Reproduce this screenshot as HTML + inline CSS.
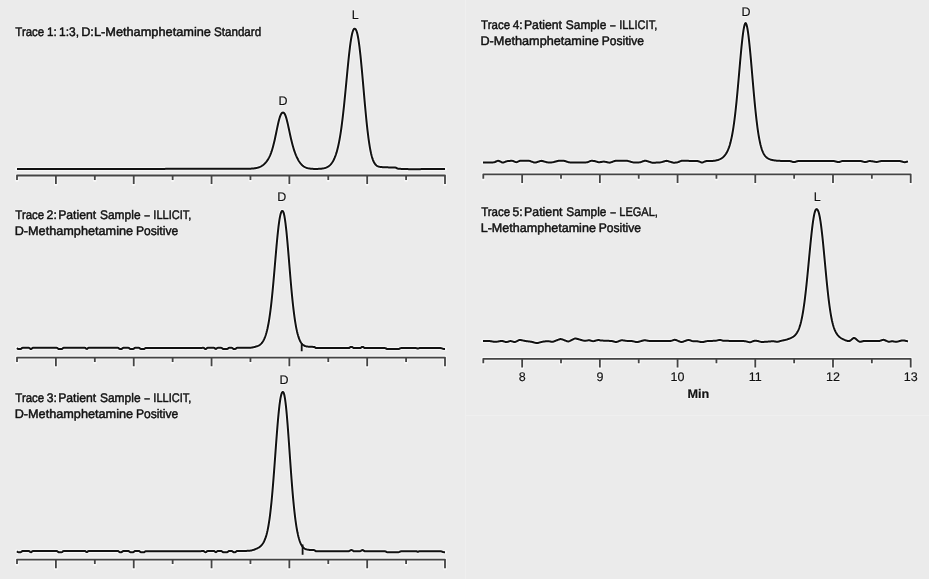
<!DOCTYPE html>
<html><head><meta charset="utf-8"><style>
html,body{margin:0;padding:0;background:#ebebeb;width:929px;height:579px;overflow:hidden;}
svg{display:block;font-family:"Liberation Sans",sans-serif;} text{text-rendering:geometricPrecision;} .txt{will-change:transform;}
</style></head><body>
<svg width="929" height="579" viewBox="0 0 929 579">
<rect x="0" y="0" width="929" height="579" fill="#ebebeb"/>
<path d="M465.5,0 L465.5,579 M466,415.5 L929,415.5" stroke="#efefef" stroke-width="1" fill="none"/>
<g fill="none" stroke-linejoin="round" stroke-linecap="butt">
<g stroke="#f7f7f7" stroke-width="4.0" stroke-linecap="round">
<path d="M17.00,180.00 L17.00,175.50 L445.00,175.50 L445.00,184.10 M55.91,175.50 L55.91,184.10 M94.82,175.50 L94.82,180.00 M133.73,175.50 L133.73,184.10 M172.64,175.50 L172.64,180.00 M211.55,175.50 L211.55,184.10 M250.45,175.50 L250.45,180.00 M289.36,175.50 L289.36,184.10 M328.27,175.50 L328.27,180.00 M367.18,175.50 L367.18,184.10 M406.09,175.50 L406.09,180.00"/><path d="M17.00,362.10 L17.00,357.60 L445.00,357.60 L445.00,366.20 M55.91,357.60 L55.91,366.20 M94.82,357.60 L94.82,362.10 M133.73,357.60 L133.73,366.20 M172.64,357.60 L172.64,362.10 M211.55,357.60 L211.55,366.20 M250.45,357.60 L250.45,362.10 M289.36,357.60 L289.36,366.20 M328.27,357.60 L328.27,362.10 M367.18,357.60 L367.18,366.20 M406.09,357.60 L406.09,362.10"/><path d="M17.00,564.10 L17.00,559.60 L445.00,559.60 L445.00,568.20 M55.91,559.60 L55.91,568.20 M94.82,559.60 L94.82,564.10 M133.73,559.60 L133.73,568.20 M172.64,559.60 L172.64,564.10 M211.55,559.60 L211.55,568.20 M250.45,559.60 L250.45,564.10 M289.36,559.60 L289.36,568.20 M328.27,559.60 L328.27,564.10 M367.18,559.60 L367.18,568.20 M406.09,559.60 L406.09,564.10"/><path d="M483.30,178.80 L483.30,174.30 L910.70,174.30 L910.70,182.90 M522.15,174.30 L522.15,182.90 M561.01,174.30 L561.01,178.80 M599.86,174.30 L599.86,182.90 M638.72,174.30 L638.72,178.80 M677.57,174.30 L677.57,182.90 M716.43,174.30 L716.43,178.80 M755.28,174.30 L755.28,182.90 M794.14,174.30 L794.14,178.80 M832.99,174.30 L832.99,182.90 M871.85,174.30 L871.85,178.80"/><path d="M483.30,363.30 L483.30,358.80 L910.70,358.80 L910.70,367.40 M522.15,358.80 L522.15,367.40 M561.01,358.80 L561.01,363.30 M599.86,358.80 L599.86,367.40 M638.72,358.80 L638.72,363.30 M677.57,358.80 L677.57,367.40 M716.43,358.80 L716.43,363.30 M755.28,358.80 L755.28,367.40 M794.14,358.80 L794.14,363.30 M832.99,358.80 L832.99,367.40 M871.85,358.80 L871.85,363.30"/>
<path d="M17.0,169.00 17.5,169.00 18.0,169.00 18.5,169.00 19.0,169.00 19.5,169.00 20.0,169.00 20.5,169.00 21.0,169.00 21.5,169.00 22.0,169.00 22.5,169.00 23.0,168.99 23.5,168.99 24.0,168.99 24.5,168.99 25.0,168.99 25.5,168.99 26.0,168.99 26.5,168.99 27.0,168.99 27.5,168.99 28.0,168.99 28.5,168.99 29.0,168.99 29.5,168.99 30.0,168.99 30.5,168.99 31.0,168.99 31.5,168.99 32.0,168.99 32.5,168.99 33.0,168.99 33.5,168.99 34.0,168.99 34.5,168.99 35.0,168.98 35.5,168.98 36.0,168.98 36.5,168.98 37.0,168.98 37.5,168.98 38.0,168.98 38.5,168.98 39.0,168.98 39.5,168.98 40.0,168.98 40.5,168.98 41.0,168.98 41.5,168.98 42.0,168.98 42.5,168.98 43.0,168.98 43.5,168.98 44.0,168.98 44.5,168.98 45.0,168.98 45.5,168.98 46.0,168.98 46.5,168.98 47.0,168.97 47.5,168.97 48.0,168.97 48.5,168.97 49.0,168.97 49.5,168.97 50.0,168.97 50.5,168.97 51.0,168.97 51.5,168.97 52.0,168.97 52.5,168.97 53.0,168.97 53.5,168.97 54.0,168.97 54.5,168.97 55.0,168.97 55.5,168.97 56.0,168.97 56.5,168.97 57.0,168.97 57.5,168.97 58.0,168.97 58.5,168.96 59.0,168.96 59.5,168.96 60.0,168.96 60.5,168.96 61.0,168.96 61.5,168.96 62.0,168.96 62.5,168.96 63.0,168.96 63.5,168.96 64.0,168.96 64.5,168.96 65.0,168.96 65.5,168.96 66.0,168.96 66.5,168.96 67.0,168.96 67.5,168.96 68.0,168.96 68.5,168.96 69.0,168.96 69.5,168.96 70.0,168.96 70.5,168.95 71.0,168.95 71.5,168.95 72.0,168.95 72.5,168.95 73.0,168.95 73.5,168.95 74.0,168.95 74.5,168.95 75.0,168.95 75.5,168.95 76.0,168.95 76.5,168.95 77.0,168.95 77.5,168.95 78.0,168.95 78.5,168.95 79.0,168.95 79.5,168.95 80.0,168.95 80.5,168.95 81.0,168.95 81.5,168.95 82.0,168.94 82.5,168.94 83.0,168.94 83.5,168.94 84.0,168.94 84.5,168.94 85.0,168.94 85.5,168.94 86.0,168.94 86.5,168.94 87.0,168.94 87.5,168.94 88.0,168.94 88.5,168.94 89.0,168.94 89.5,168.94 90.0,168.94 90.5,168.94 91.0,168.94 91.5,168.94 92.0,168.94 92.5,168.94 93.0,168.94 93.5,168.94 94.0,168.93 94.5,168.93 95.0,168.93 95.5,168.93 96.0,168.93 96.5,168.93 97.0,168.93 97.5,168.93 98.0,168.93 98.5,168.93 99.0,168.93 99.5,168.93 100.0,168.93 100.5,168.93 101.0,168.93 101.5,168.93 102.0,168.93 102.5,168.93 103.0,168.93 103.5,168.93 104.0,168.93 104.5,168.93 105.0,168.93 105.5,168.93 106.0,168.92 106.5,168.92 107.0,168.92 107.5,168.92 108.0,168.92 108.5,168.92 109.0,168.92 109.5,168.92 110.0,168.92 110.5,168.92 111.0,168.92 111.5,168.92 112.0,168.92 112.5,168.92 113.0,168.92 113.5,168.92 114.0,168.92 114.5,168.92 115.0,168.92 115.5,168.92 116.0,168.92 116.5,168.92 117.0,168.92 117.5,168.91 118.0,168.91 118.5,168.91 119.0,168.91 119.5,168.91 120.0,168.91 120.5,168.91 121.0,168.91 121.5,168.91 122.0,168.91 122.5,168.91 123.0,168.91 123.5,168.91 124.0,168.91 124.5,168.91 125.0,168.91 125.5,168.91 126.0,168.91 126.5,168.91 127.0,168.91 127.5,168.91 128.0,168.91 128.5,168.91 129.0,168.91 129.5,168.90 130.0,168.90 130.5,168.90 131.0,168.90 131.5,168.90 132.0,168.90 132.5,168.90 133.0,168.90 133.5,168.90 134.0,168.90 134.5,168.90 135.0,168.90 135.5,168.90 136.0,168.90 136.5,168.90 137.0,168.90 137.5,168.90 138.0,168.90 138.5,168.90 139.0,168.90 139.5,168.90 140.0,168.90 140.5,168.90 141.0,168.89 141.5,168.89 142.0,168.89 142.5,168.89 143.0,168.89 143.5,168.89 144.0,168.89 144.5,168.89 145.0,168.89 145.5,168.89 146.0,168.89 146.5,168.89 147.0,168.89 147.5,168.89 148.0,168.89 148.5,168.89 149.0,168.89 149.5,168.89 150.0,168.89 150.5,168.89 151.0,168.89 151.5,168.89 152.0,168.89 152.5,168.89 153.0,168.88 153.5,168.88 154.0,168.88 154.5,168.88 155.0,168.88 155.5,168.88 156.0,168.88 156.5,168.88 157.0,168.88 157.5,168.88 158.0,168.88 158.5,168.88 159.0,168.88 159.5,168.88 160.0,168.88 160.5,168.88 161.0,168.88 161.5,168.88 162.0,168.88 162.5,168.88 163.0,168.88 163.5,168.88 164.0,168.88 164.5,168.88 165.0,168.88 165.5,168.87 166.0,168.87 166.5,168.87 167.0,168.87 167.5,168.87 168.0,168.87 168.5,168.87 169.0,168.87 169.5,168.87 170.0,168.87 170.5,168.87 171.0,168.87 171.5,168.87 172.0,168.87 172.5,168.87 173.0,168.87 173.5,168.87 174.0,168.87 174.5,168.87 175.0,168.87 175.5,168.87 176.0,168.87 176.5,168.87 177.0,168.87 177.5,168.86 178.0,168.86 178.5,168.86 179.0,168.86 179.5,168.86 180.0,168.86 180.5,168.86 181.0,168.86 181.5,168.86 182.0,168.86 182.5,168.86 183.0,168.86 183.5,168.86 184.0,168.86 184.5,168.86 185.0,168.86 185.5,168.86 186.0,168.86 186.5,168.86 187.0,168.86 187.5,168.86 188.0,168.86 188.5,168.86 189.0,168.85 189.5,168.85 190.0,168.85 190.5,168.85 191.0,168.85 191.5,168.85 192.0,168.85 192.5,168.85 193.0,168.85 193.5,168.85 194.0,168.85 194.5,168.85 195.0,168.85 195.5,168.85 196.0,168.85 196.5,168.85 197.0,168.85 197.5,168.85 198.0,168.85 198.5,168.85 199.0,168.85 199.5,168.85 200.0,168.85 200.5,168.85 201.0,168.84 201.5,168.84 202.0,168.84 202.5,168.84 203.0,168.84 203.5,168.84 204.0,168.84 204.5,168.84 205.0,168.84 205.5,168.84 206.0,168.84 206.5,168.84 207.0,168.84 207.5,168.84 208.0,168.84 208.5,168.84 209.0,168.84 209.5,168.84 210.0,168.84 210.5,168.84 211.0,168.84 211.5,168.84 212.0,168.84 212.5,168.84 213.0,168.83 213.5,168.83 214.0,168.83 214.5,168.83 215.0,168.83 215.5,168.83 216.0,168.83 216.5,168.83 217.0,168.83 217.5,168.83 218.0,168.83 218.5,168.83 219.0,168.83 219.5,168.83 220.0,168.83 220.5,168.83 221.0,168.83 221.5,168.83 222.0,168.83 222.5,168.83 223.0,168.83 223.5,168.83 224.0,168.83 224.5,168.83 225.0,168.82 225.5,168.82 226.0,168.82 226.5,168.82 227.0,168.82 227.5,168.82 228.0,168.82 228.5,168.82 229.0,168.82 229.5,168.82 230.0,168.82 230.5,168.82 231.0,168.82 231.5,168.82 232.0,168.82 232.5,168.82 233.0,168.82 233.5,168.82 234.0,168.82 234.5,168.82 235.0,168.82 235.5,168.82 236.0,168.82 236.5,168.81 237.0,168.81 237.5,168.81 238.0,168.81 238.5,168.81 239.0,168.81 239.5,168.81 240.0,168.81 240.5,168.81 241.0,168.81 241.5,168.81 242.0,168.81 242.5,168.80 243.0,168.80 243.5,168.80 244.0,168.80 244.5,168.79 245.0,168.79 245.5,168.79 246.0,168.78 246.5,168.77 247.0,168.77 247.5,168.76 248.0,168.75 248.5,168.74 249.0,168.73 249.5,168.71 250.0,168.69 250.5,168.67 251.0,168.65 251.5,168.62 252.0,168.59 252.5,168.55 253.0,168.51 253.5,168.46 254.0,168.41 254.5,168.34 255.0,168.27 255.5,168.19 256.0,168.10 256.5,168.00 257.0,167.89 257.5,167.76 258.0,167.62 258.5,167.46 259.0,167.29 259.5,167.09 260.0,166.88 260.5,166.64 261.0,166.38 261.5,166.10 262.0,165.78 262.5,165.44 263.0,165.08 263.5,164.68 264.0,164.25 264.5,163.78 265.0,163.28 265.5,162.74 266.0,162.16 266.5,161.54 267.0,160.87 267.5,160.15 268.0,159.37 268.5,158.53 269.0,157.62 269.5,156.63 270.0,155.55 270.5,154.38 271.0,153.10 271.5,151.71 272.0,150.19 272.5,148.55 273.0,146.77 273.5,144.86 274.0,142.83 274.5,140.67 275.0,138.42 275.5,136.08 276.0,133.68 276.5,131.26 277.0,128.85 277.5,126.48 278.0,124.20 278.5,122.05 279.0,120.05 279.5,118.25 280.0,116.67 280.5,115.34 281.0,114.26 281.5,113.46 282.0,112.91 282.5,112.61 283.0,112.52 283.5,112.63 284.0,112.98 284.5,113.60 285.0,114.50 285.5,115.67 286.0,117.10 286.5,118.78 287.0,120.66 287.5,122.71 288.0,124.90 288.5,127.19 289.0,129.52 289.5,131.88 290.0,134.21 290.5,136.50 291.0,138.71 291.5,140.83 292.0,142.86 292.5,144.77 293.0,146.58 293.5,148.28 294.0,149.87 294.5,151.37 295.0,152.77 295.5,154.08 296.0,155.32 296.5,156.47 297.0,157.55 297.5,158.57 298.0,159.52 298.5,160.40 299.0,161.23 299.5,161.99 300.0,162.70 300.5,163.35 301.0,163.95 301.5,164.51 302.0,165.01 302.5,165.47 303.0,165.88 303.5,166.26 304.0,166.59 304.5,166.90 305.0,167.17 305.5,167.41 306.0,167.62 306.5,167.81 307.0,167.98 307.5,168.12 308.0,168.25 308.5,168.36 309.0,168.45 309.5,168.54 310.0,168.61 310.5,168.67 311.0,168.72 311.5,168.76 312.0,168.80 312.5,168.83 313.0,168.86 313.5,168.88 314.0,168.89 314.5,168.90 315.0,168.91 315.5,168.92 316.0,168.92 316.5,168.91 317.0,168.91 317.5,168.90 318.0,168.89 318.5,168.87 319.0,168.85 319.5,168.83 320.0,168.80 320.5,168.76 321.0,168.72 321.5,168.67 322.0,168.61 322.5,168.54 323.0,168.46 323.5,168.36 324.0,168.26 324.5,168.14 325.0,168.00 325.5,167.84 326.0,167.66 326.5,167.46 327.0,167.23 327.5,166.97 328.0,166.68 328.5,166.36 329.0,165.99 329.5,165.59 330.0,165.14 330.5,164.63 331.0,164.08 331.5,163.46 332.0,162.78 332.5,162.03 333.0,161.20 333.5,160.29 334.0,159.29 334.5,158.19 335.0,156.99 335.5,155.67 336.0,154.23 336.5,152.66 337.0,150.94 337.5,149.07 338.0,147.03 338.5,144.80 339.0,142.38 339.5,139.76 340.0,136.92 340.5,133.85 341.0,130.55 341.5,127.01 342.0,123.22 342.5,119.20 343.0,114.95 343.5,110.47 344.0,105.79 344.5,100.92 345.0,95.91 345.5,90.77 346.0,85.55 346.5,80.29 347.0,75.05 347.5,69.87 348.0,64.80 348.5,59.89 349.0,55.21 349.5,50.80 350.0,46.71 350.5,42.97 351.0,39.63 351.5,36.72 352.0,34.25 352.5,32.24 353.0,30.70 353.5,29.62 354.0,28.97 354.5,28.73 355.0,28.78 355.5,29.12 356.0,29.82 356.5,30.94 357.0,32.50 357.5,34.52 358.0,37.00 358.5,39.95 359.0,43.34 359.5,47.17 360.0,51.39 360.5,55.97 361.0,60.87 361.5,66.04 362.0,71.44 362.5,77.00 363.0,82.67 363.5,88.39 364.0,94.12 364.5,99.79 365.0,105.36 365.5,110.78 366.0,116.01 366.5,121.03 367.0,125.78 367.5,130.27 368.0,134.46 368.5,138.34 369.0,141.92 369.5,145.18 370.0,148.14 370.5,150.79 371.0,153.16 371.5,155.25 372.0,157.09 372.5,158.70 373.0,160.09 373.5,161.29 374.0,162.31 374.5,163.18 375.0,163.91 375.5,164.53 376.0,165.04 376.5,165.46 377.0,165.81 377.5,166.09 378.0,166.32 378.5,166.51 379.0,166.66 379.5,166.78 380.0,166.88 380.5,166.96 381.0,167.02 381.5,167.08 382.0,167.12 382.5,167.15 383.0,167.19 383.5,167.21 384.0,167.24 384.5,167.26 385.0,167.28 385.5,167.30 386.0,167.32 386.5,167.33 387.0,167.34 387.5,167.36 388.0,167.37 388.5,167.38 389.0,167.39 389.5,167.39 390.0,167.40 390.5,167.41 391.0,167.41 391.5,167.41 392.0,167.42 392.5,167.42 393.0,167.42 393.5,167.42 394.0,167.43 394.5,167.44 395.0,167.48 395.5,167.58 396.0,167.75 396.5,167.98 397.0,168.25 397.5,168.48 398.0,168.65 398.5,168.75 399.0,168.80 399.5,168.83 400.0,168.85 400.5,168.87 401.0,168.89 401.5,168.91 402.0,168.93 402.5,168.95 403.0,168.97 403.5,168.98 404.0,169.00 404.5,169.02 405.0,169.03 405.5,169.05 406.0,169.06 406.5,169.08 407.0,169.09 407.5,169.11 408.0,169.12 408.5,169.14 409.0,169.15 409.5,169.16 410.0,169.17 410.5,169.17 411.0,169.17 411.5,169.17 412.0,169.17 412.5,169.17 413.0,169.17 413.5,169.17 414.0,169.16 414.5,169.16 415.0,169.16 415.5,169.16 416.0,169.15 416.5,169.15 417.0,169.15 417.5,169.14 418.0,169.14 418.5,169.14 419.0,169.14 419.5,169.13 420.0,169.13 420.5,169.13 421.0,169.12 421.5,169.12 422.0,169.12 422.5,169.11 423.0,169.11 423.5,169.11 424.0,169.11 424.5,169.10 425.0,169.10 425.5,169.10 426.0,169.09 426.5,169.09 427.0,169.09 427.5,169.09 428.0,169.08 428.5,169.08 429.0,169.08 429.5,169.08 430.0,169.07 430.5,169.07 431.0,169.07 431.5,169.07 432.0,169.06 432.5,169.06 433.0,169.06 433.5,169.06 434.0,169.05 434.5,169.05 435.0,169.05 435.5,169.05 436.0,169.04 436.5,169.04 437.0,169.04 437.5,169.04 438.0,169.03 438.5,169.03 439.0,169.03 439.5,169.03 440.0,169.02 440.5,169.02 441.0,169.02 441.5,169.02 442.0,169.01 442.5,169.01 443.0,169.01 443.5,169.01 444.0,169.01 444.5,169.00 445.0,169.00"/><path d="M17.0,348.07 17.5,348.55 18.0,348.95 18.5,349.08 19.0,349.10 19.5,349.10 20.0,349.10 20.5,349.07 21.0,348.89 21.5,348.45 22.0,348.01 22.5,347.83 23.0,347.80 23.5,347.80 24.0,347.80 24.5,347.80 25.0,347.80 25.5,347.80 26.0,347.80 26.5,347.80 27.0,347.80 27.5,347.80 28.0,347.80 28.5,347.80 29.0,347.84 29.5,348.07 30.0,348.55 30.5,348.94 31.0,349.04 31.5,348.83 32.0,348.35 32.5,347.95 33.0,347.82 33.5,347.80 34.0,347.80 34.5,347.80 35.0,347.80 35.5,347.80 36.0,347.80 36.5,347.80 37.0,347.80 37.5,347.80 38.0,347.80 38.5,347.80 39.0,347.80 39.5,347.80 40.0,347.80 40.5,347.80 41.0,347.80 41.5,347.80 42.0,347.80 42.5,347.80 43.0,347.80 43.5,347.80 44.0,347.80 44.5,347.80 45.0,347.80 45.5,347.80 46.0,347.80 46.5,347.80 47.0,347.80 47.5,347.80 48.0,347.80 48.5,347.80 49.0,347.80 49.5,347.80 50.0,347.80 50.5,347.80 51.0,347.80 51.5,347.80 52.0,347.80 52.5,347.80 53.0,347.80 53.5,347.80 54.0,347.80 54.5,347.80 55.0,347.80 55.5,347.80 56.0,347.80 56.5,347.81 57.0,347.88 57.5,348.16 58.0,348.65 58.5,348.99 59.0,349.09 59.5,349.10 60.0,349.10 60.5,349.10 61.0,349.10 61.5,349.08 62.0,348.95 62.5,348.55 63.0,348.07 63.5,347.84 64.0,347.80 64.5,347.80 65.0,347.80 65.5,347.80 66.0,347.80 66.5,347.80 67.0,347.80 67.5,347.80 68.0,347.80 68.5,347.80 69.0,347.80 69.5,347.80 70.0,347.80 70.5,347.80 71.0,347.80 71.5,347.80 72.0,347.80 72.5,347.80 73.0,347.80 73.5,347.80 74.0,347.80 74.5,347.80 75.0,347.80 75.5,347.80 76.0,347.80 76.5,347.80 77.0,347.80 77.5,347.80 78.0,347.80 78.5,347.80 79.0,347.80 79.5,347.80 80.0,347.80 80.5,347.80 81.0,347.80 81.5,347.80 82.0,347.80 82.5,347.80 83.0,347.80 83.5,347.80 84.0,347.80 84.5,347.80 85.0,347.83 85.5,348.01 86.0,348.45 86.5,348.87 87.0,348.91 87.5,348.55 88.0,348.07 88.5,347.84 89.0,347.80 89.5,347.80 90.0,347.80 90.5,347.80 91.0,347.80 91.5,347.80 92.0,347.80 92.5,347.80 93.0,347.80 93.5,347.80 94.0,347.80 94.5,347.80 95.0,347.80 95.5,347.80 96.0,347.80 96.5,347.80 97.0,347.80 97.5,347.80 98.0,347.80 98.5,347.80 99.0,347.80 99.5,347.80 100.0,347.80 100.5,347.80 101.0,347.80 101.5,347.80 102.0,347.80 102.5,347.80 103.0,347.80 103.5,347.80 104.0,347.80 104.5,347.80 105.0,347.80 105.5,347.80 106.0,347.80 106.5,347.80 107.0,347.80 107.5,347.80 108.0,347.80 108.5,347.80 109.0,347.80 109.5,347.80 110.0,347.80 110.5,347.80 111.0,347.80 111.5,347.80 112.0,347.80 112.5,347.80 113.0,347.80 113.5,347.80 114.0,347.80 114.5,347.80 115.0,347.80 115.5,347.80 116.0,347.80 116.5,347.80 117.0,347.80 117.5,347.80 118.0,347.83 118.5,348.01 119.0,348.45 119.5,348.89 120.0,349.07 120.5,349.10 121.0,349.09 121.5,349.02 122.0,348.74 122.5,348.25 123.0,347.91 123.5,347.81 124.0,347.80 124.5,347.80 125.0,347.80 125.5,347.80 126.0,347.80 126.5,347.80 127.0,347.80 127.5,347.80 128.0,347.80 128.5,347.83 129.0,348.01 129.5,348.45 130.0,348.89 130.5,349.07 131.0,349.10 131.5,349.10 132.0,349.10 132.5,349.10 133.0,349.07 133.5,348.89 134.0,348.45 134.5,348.01 135.0,347.83 135.5,347.80 136.0,347.80 136.5,347.80 137.0,347.80 137.5,347.80 138.0,347.80 138.5,347.80 139.0,347.83 139.5,348.01 140.0,348.45 140.5,348.89 141.0,349.07 141.5,349.10 142.0,349.10 142.5,349.10 143.0,349.10 143.5,349.10 144.0,349.06 144.5,348.83 145.0,348.37 145.5,348.03 146.0,347.99 146.5,348.06 147.0,348.09 147.5,348.10 148.0,348.10 148.5,348.10 149.0,348.10 149.5,348.09 150.0,348.09 150.5,348.09 151.0,348.09 151.5,348.09 152.0,348.09 152.5,348.09 153.0,348.09 153.5,348.09 154.0,348.09 154.5,348.09 155.0,348.08 155.5,348.08 156.0,348.08 156.5,348.08 157.0,348.08 157.5,348.08 158.0,348.08 158.5,348.08 159.0,348.08 159.5,348.08 160.0,348.07 160.5,348.07 161.0,348.07 161.5,348.07 162.0,348.07 162.5,348.07 163.0,348.07 163.5,348.07 164.0,348.07 164.5,348.07 165.0,348.07 165.5,348.06 166.0,348.06 166.5,348.06 167.0,348.06 167.5,348.06 168.0,348.06 168.5,348.06 169.0,348.06 169.5,348.06 170.0,348.06 170.5,348.06 171.0,348.05 171.5,348.05 172.0,348.05 172.5,348.05 173.0,348.05 173.5,348.05 174.0,348.05 174.5,348.05 175.0,348.05 175.5,348.05 176.0,348.04 176.5,348.04 177.0,348.04 177.5,348.04 178.0,348.04 178.5,348.04 179.0,348.04 179.5,348.04 180.0,348.04 180.5,348.04 181.0,348.04 181.5,348.03 182.0,348.03 182.5,348.03 183.0,348.03 183.5,348.03 184.0,348.03 184.5,348.03 185.0,348.03 185.5,348.03 186.0,348.03 186.5,348.03 187.0,348.02 187.5,348.02 188.0,348.02 188.5,348.02 189.0,348.02 189.5,348.02 190.0,348.02 190.5,348.02 191.0,348.02 191.5,348.02 192.0,348.01 192.5,348.01 193.0,348.01 193.5,348.01 194.0,348.01 194.5,348.01 195.0,348.01 195.5,348.01 196.0,348.01 196.5,348.01 197.0,348.01 197.5,348.00 198.0,348.00 198.5,348.00 199.0,348.00 199.5,348.00 200.0,347.99 200.5,347.97 201.0,347.94 201.5,347.91 202.0,347.89 202.5,347.86 203.0,347.83 203.5,347.84 204.0,348.02 204.5,348.45 205.0,348.88 205.5,349.05 206.0,348.94 206.5,348.55 207.0,348.07 207.5,347.84 208.0,347.80 208.5,347.80 209.0,347.80 209.5,347.80 210.0,347.80 210.5,347.80 211.0,347.80 211.5,347.80 212.0,347.80 212.5,347.80 213.0,347.80 213.5,347.80 214.0,347.83 214.5,348.01 215.0,348.45 215.5,348.88 216.0,348.96 216.5,348.65 217.0,348.16 217.5,347.88 218.0,347.81 218.5,347.80 219.0,347.80 219.5,347.80 220.0,347.80 220.5,347.80 221.0,347.81 221.5,347.88 222.0,348.16 222.5,348.65 223.0,348.99 223.5,349.09 224.0,349.10 224.5,349.10 225.0,349.10 225.5,349.10 226.0,349.10 226.5,349.10 227.0,349.07 227.5,348.89 228.0,348.45 228.5,348.01 229.0,347.83 229.5,347.80 230.0,347.80 230.5,347.80 231.0,347.80 231.5,347.81 232.0,347.88 232.5,348.16 233.0,348.65 233.5,348.99 234.0,349.09 234.5,349.10 235.0,349.07 235.5,348.89 236.0,348.45 236.5,348.01 237.0,347.83 237.5,347.80 238.0,347.80 238.5,347.80 239.0,347.80 239.5,347.80 240.0,347.80 240.5,347.80 241.0,347.80 241.5,347.80 242.0,347.80 242.5,347.80 243.0,347.80 243.5,347.80 244.0,347.79 244.5,347.79 245.0,347.79 245.5,347.79 246.0,347.79 246.5,347.78 247.0,347.78 247.5,347.77 248.0,347.77 248.5,347.76 249.0,347.75 249.5,347.73 250.0,347.72 250.5,347.70 251.0,347.66 251.5,347.60 252.0,347.52 252.5,347.43 253.0,347.33 253.5,347.23 254.0,347.11 254.5,346.98 255.0,346.84 255.5,346.69 256.0,346.54 256.5,346.40 257.0,346.25 257.5,346.09 258.0,345.89 258.5,345.66 259.0,345.40 259.5,345.09 260.0,344.74 260.5,344.34 261.0,343.88 261.5,343.36 262.0,342.76 262.5,342.07 263.0,341.29 263.5,340.41 264.0,339.43 264.5,338.33 265.0,337.10 265.5,335.72 266.0,334.19 266.5,332.47 267.0,330.56 267.5,328.44 268.0,326.08 268.5,323.47 269.0,320.58 269.5,317.41 270.0,313.93 270.5,310.14 271.0,306.04 271.5,301.62 272.0,296.90 272.5,291.89 273.0,286.62 273.5,281.13 274.0,275.46 274.5,269.65 275.0,263.78 275.5,257.91 276.0,252.11 276.5,246.45 277.0,241.01 277.5,235.86 278.0,231.08 278.5,226.71 279.0,222.82 279.5,219.45 280.0,216.63 280.5,214.38 281.0,212.71 281.5,211.60 282.0,211.01 282.5,210.90 283.0,211.32 283.5,212.39 284.0,214.14 284.5,216.55 285.0,219.61 285.5,223.28 286.0,227.51 286.5,232.23 287.0,237.39 287.5,242.89 288.0,248.67 288.5,254.63 289.0,260.69 289.5,266.78 290.0,272.82 290.5,278.74 291.0,284.50 291.5,290.04 292.0,295.32 292.5,300.31 293.0,305.00 293.5,309.38 294.0,313.43 294.5,317.17 295.0,320.59 295.5,323.71 296.0,326.55 296.5,329.11 297.0,331.41 297.5,333.47 298.0,335.31 298.5,336.95 299.0,338.39 299.5,339.66 300.0,340.77 300.5,341.73 301.0,342.55 301.5,343.27 302.0,343.88 302.5,344.40 303.0,344.84 303.5,345.21 304.0,345.51 304.5,345.77 305.0,345.98 305.5,346.15 306.0,346.29 306.5,346.40 307.0,346.49 307.5,346.56 308.0,346.63 308.5,346.69 309.0,346.73 309.5,346.77 310.0,346.80 310.5,346.82 311.0,346.84 311.5,346.85 312.0,346.86 312.5,346.87 313.0,346.88 313.5,346.89 314.0,346.92 314.5,347.07 315.0,347.41 315.5,347.80 316.0,348.03 316.5,348.09 317.0,348.10 317.5,348.10 318.0,348.10 318.5,348.10 319.0,348.10 319.5,348.10 320.0,348.10 320.5,348.10 321.0,348.10 321.5,348.10 322.0,348.10 322.5,348.10 323.0,348.10 323.5,348.10 324.0,348.10 324.5,348.10 325.0,348.10 325.5,348.10 326.0,348.10 326.5,348.10 327.0,348.10 327.5,348.10 328.0,348.10 328.5,348.10 329.0,348.10 329.5,348.10 330.0,348.10 330.5,348.10 331.0,348.10 331.5,348.10 332.0,348.10 332.5,348.10 333.0,348.10 333.5,348.10 334.0,348.10 334.5,348.10 335.0,348.10 335.5,348.10 336.0,348.10 336.5,348.10 337.0,348.10 337.5,348.10 338.0,348.10 338.5,348.10 339.0,348.10 339.5,348.10 340.0,348.10 340.5,348.10 341.0,348.10 341.5,348.10 342.0,348.10 342.5,348.10 343.0,348.10 343.5,348.10 344.0,348.10 344.5,348.10 345.0,348.10 345.5,348.10 346.0,348.10 346.5,348.10 347.0,348.10 347.5,348.10 348.0,348.10 348.5,348.09 349.0,348.00 349.5,347.74 350.0,347.34 350.5,347.04 351.0,346.92 351.5,346.90 352.0,346.94 352.5,347.15 353.0,347.59 353.5,347.96 354.0,348.08 354.5,348.10 355.0,348.10 355.5,348.10 356.0,348.10 356.5,348.10 357.0,348.10 357.5,348.10 358.0,348.10 358.5,348.10 359.0,348.10 359.5,348.10 360.0,348.07 360.5,347.93 361.0,347.58 361.5,347.20 362.0,346.97 362.5,346.91 363.0,346.97 363.5,347.24 364.0,347.68 364.5,348.00 365.0,348.09 365.5,348.10 366.0,348.10 366.5,348.10 367.0,348.10 367.5,348.10 368.0,348.10 368.5,348.10 369.0,348.10 369.5,348.10 370.0,348.10 370.5,348.10 371.0,348.10 371.5,348.10 372.0,348.10 372.5,348.10 373.0,348.10 373.5,348.10 374.0,348.10 374.5,348.10 375.0,348.10 375.5,348.10 376.0,348.10 376.5,348.10 377.0,348.10 377.5,348.10 378.0,348.10 378.5,348.10 379.0,348.10 379.5,348.10 380.0,348.10 380.5,348.10 381.0,348.10 381.5,348.10 382.0,348.10 382.5,348.10 383.0,348.10 383.5,348.10 384.0,348.10 384.5,348.10 385.0,348.12 385.5,348.23 386.0,348.49 386.5,348.78 387.0,348.95 387.5,349.00 388.0,349.00 388.5,349.00 389.0,349.00 389.5,349.00 390.0,349.00 390.5,349.00 391.0,349.00 391.5,349.00 392.0,349.00 392.5,349.00 393.0,349.00 393.5,349.00 394.0,349.00 394.5,349.00 395.0,349.00 395.5,349.00 396.0,349.00 396.5,349.00 397.0,349.00 397.5,349.00 398.0,349.00 398.5,348.99 399.0,348.93 399.5,348.73 400.0,348.43 400.5,348.20 401.0,348.11 401.5,348.10 402.0,348.10 402.5,348.10 403.0,348.10 403.5,348.10 404.0,348.10 404.5,348.10 405.0,348.10 405.5,348.10 406.0,348.10 406.5,348.10 407.0,348.10 407.5,348.10 408.0,348.10 408.5,348.10 409.0,348.10 409.5,348.10 410.0,348.10 410.5,348.10 411.0,348.10 411.5,348.10 412.0,348.10 412.5,348.10 413.0,348.10 413.5,348.10 414.0,348.10 414.5,348.10 415.0,348.10 415.5,348.10 416.0,348.10 416.5,348.13 417.0,348.28 417.5,348.54 418.0,348.58 418.5,348.34 419.0,348.15 419.5,348.10 420.0,348.10 420.5,348.10 421.0,348.10 421.5,348.10 422.0,348.10 422.5,348.10 423.0,348.10 423.5,348.10 424.0,348.10 424.5,348.10 425.0,348.10 425.5,348.10 426.0,348.10 426.5,348.10 427.0,348.10 427.5,348.10 428.0,348.10 428.5,348.10 429.0,348.10 429.5,348.10 430.0,348.10 430.5,348.10 431.0,348.10 431.5,348.10 432.0,348.10 432.5,348.10 433.0,348.10 433.5,348.10 434.0,348.10 434.5,348.10 435.0,348.10 435.5,348.10 436.0,348.10 436.5,348.10 437.0,348.10 437.5,348.10 438.0,348.10 438.5,348.10 439.0,348.10 439.5,348.10 440.0,348.10 440.5,348.10 441.0,348.14 441.5,348.24 442.0,348.40 442.5,348.59 443.0,348.77 443.5,348.91 444.0,348.98 444.5,349.00 445.0,349.00"/><path d="M17.0,551.27 17.5,551.75 18.0,552.15 18.5,552.28 19.0,552.30 19.5,552.30 20.0,552.30 20.5,552.27 21.0,552.09 21.5,551.65 22.0,551.21 22.5,551.03 23.0,551.00 23.5,551.00 24.0,551.00 24.5,551.00 25.0,551.00 25.5,551.00 26.0,551.00 26.5,551.00 27.0,551.00 27.5,551.00 28.0,551.00 28.5,551.00 29.0,551.04 29.5,551.27 30.0,551.75 30.5,552.14 31.0,552.24 31.5,552.03 32.0,551.55 32.5,551.15 33.0,551.02 33.5,551.00 34.0,551.00 34.5,551.00 35.0,551.00 35.5,551.00 36.0,551.00 36.5,551.00 37.0,551.00 37.5,551.00 38.0,551.00 38.5,551.00 39.0,551.00 39.5,551.00 40.0,551.00 40.5,551.00 41.0,551.00 41.5,551.00 42.0,551.00 42.5,551.00 43.0,551.00 43.5,551.00 44.0,551.00 44.5,551.00 45.0,551.00 45.5,551.00 46.0,551.00 46.5,551.00 47.0,551.00 47.5,551.00 48.0,551.00 48.5,551.00 49.0,551.00 49.5,551.00 50.0,551.00 50.5,551.00 51.0,551.00 51.5,551.00 52.0,551.00 52.5,551.00 53.0,551.00 53.5,551.00 54.0,551.00 54.5,551.00 55.0,551.00 55.5,551.00 56.0,551.00 56.5,551.01 57.0,551.08 57.5,551.36 58.0,551.85 58.5,552.19 59.0,552.29 59.5,552.30 60.0,552.30 60.5,552.30 61.0,552.30 61.5,552.28 62.0,552.15 62.5,551.75 63.0,551.27 63.5,551.04 64.0,551.00 64.5,551.00 65.0,551.00 65.5,551.00 66.0,551.00 66.5,551.00 67.0,551.00 67.5,551.00 68.0,551.00 68.5,551.00 69.0,551.00 69.5,551.00 70.0,551.00 70.5,551.00 71.0,551.00 71.5,551.00 72.0,551.00 72.5,551.00 73.0,551.00 73.5,551.00 74.0,551.00 74.5,551.00 75.0,551.00 75.5,551.00 76.0,551.00 76.5,551.00 77.0,551.00 77.5,551.00 78.0,551.00 78.5,551.00 79.0,551.00 79.5,551.00 80.0,551.00 80.5,551.00 81.0,551.00 81.5,551.00 82.0,551.00 82.5,551.00 83.0,551.00 83.5,551.00 84.0,551.00 84.5,551.00 85.0,551.03 85.5,551.21 86.0,551.65 86.5,552.07 87.0,552.11 87.5,551.75 88.0,551.27 88.5,551.04 89.0,551.00 89.5,551.00 90.0,551.00 90.5,551.00 91.0,551.00 91.5,551.00 92.0,551.00 92.5,551.00 93.0,551.00 93.5,551.00 94.0,551.00 94.5,551.00 95.0,551.00 95.5,551.00 96.0,551.00 96.5,551.00 97.0,551.00 97.5,551.00 98.0,551.00 98.5,551.00 99.0,551.00 99.5,551.00 100.0,551.00 100.5,551.00 101.0,551.00 101.5,551.00 102.0,551.00 102.5,551.00 103.0,551.00 103.5,551.00 104.0,551.00 104.5,551.00 105.0,551.00 105.5,551.00 106.0,551.00 106.5,551.00 107.0,551.00 107.5,551.00 108.0,551.00 108.5,551.00 109.0,551.00 109.5,551.00 110.0,551.00 110.5,551.00 111.0,551.00 111.5,551.00 112.0,551.00 112.5,551.00 113.0,551.00 113.5,551.00 114.0,551.00 114.5,551.00 115.0,551.00 115.5,551.00 116.0,551.00 116.5,551.00 117.0,551.00 117.5,551.00 118.0,551.03 118.5,551.21 119.0,551.65 119.5,552.09 120.0,552.27 120.5,552.30 121.0,552.29 121.5,552.22 122.0,551.94 122.5,551.45 123.0,551.11 123.5,551.01 124.0,551.00 124.5,551.00 125.0,551.00 125.5,551.00 126.0,551.00 126.5,551.00 127.0,551.00 127.5,551.00 128.0,551.00 128.5,551.03 129.0,551.21 129.5,551.65 130.0,552.09 130.5,552.27 131.0,552.30 131.5,552.30 132.0,552.30 132.5,552.30 133.0,552.27 133.5,552.09 134.0,551.65 134.5,551.21 135.0,551.03 135.5,551.00 136.0,551.00 136.5,551.00 137.0,551.00 137.5,551.00 138.0,551.00 138.5,551.00 139.0,551.03 139.5,551.21 140.0,551.65 140.5,552.09 141.0,552.27 141.5,552.30 142.0,552.30 142.5,552.30 143.0,552.30 143.5,552.30 144.0,552.26 144.5,552.03 145.0,551.57 145.5,551.23 146.0,551.19 146.5,551.26 147.0,551.29 147.5,551.30 148.0,551.30 148.5,551.30 149.0,551.30 149.5,551.29 150.0,551.29 150.5,551.29 151.0,551.29 151.5,551.29 152.0,551.29 152.5,551.29 153.0,551.29 153.5,551.29 154.0,551.29 154.5,551.29 155.0,551.28 155.5,551.28 156.0,551.28 156.5,551.28 157.0,551.28 157.5,551.28 158.0,551.28 158.5,551.28 159.0,551.28 159.5,551.28 160.0,551.27 160.5,551.27 161.0,551.27 161.5,551.27 162.0,551.27 162.5,551.27 163.0,551.27 163.5,551.27 164.0,551.27 164.5,551.27 165.0,551.27 165.5,551.26 166.0,551.26 166.5,551.26 167.0,551.26 167.5,551.26 168.0,551.26 168.5,551.26 169.0,551.26 169.5,551.26 170.0,551.26 170.5,551.26 171.0,551.25 171.5,551.25 172.0,551.25 172.5,551.25 173.0,551.25 173.5,551.25 174.0,551.25 174.5,551.25 175.0,551.25 175.5,551.25 176.0,551.24 176.5,551.24 177.0,551.24 177.5,551.24 178.0,551.24 178.5,551.24 179.0,551.24 179.5,551.24 180.0,551.24 180.5,551.24 181.0,551.24 181.5,551.23 182.0,551.23 182.5,551.23 183.0,551.23 183.5,551.23 184.0,551.23 184.5,551.23 185.0,551.23 185.5,551.23 186.0,551.23 186.5,551.23 187.0,551.22 187.5,551.22 188.0,551.22 188.5,551.22 189.0,551.22 189.5,551.22 190.0,551.22 190.5,551.22 191.0,551.22 191.5,551.22 192.0,551.21 192.5,551.21 193.0,551.21 193.5,551.21 194.0,551.21 194.5,551.21 195.0,551.21 195.5,551.21 196.0,551.21 196.5,551.21 197.0,551.21 197.5,551.20 198.0,551.20 198.5,551.20 199.0,551.20 199.5,551.20 200.0,551.19 200.5,551.17 201.0,551.14 201.5,551.11 202.0,551.09 202.5,551.06 203.0,551.03 203.5,551.04 204.0,551.22 204.5,551.65 205.0,552.08 205.5,552.25 206.0,552.14 206.5,551.75 207.0,551.27 207.5,551.04 208.0,551.00 208.5,551.00 209.0,551.00 209.5,551.00 210.0,551.00 210.5,551.00 211.0,551.00 211.5,551.00 212.0,551.00 212.5,551.00 213.0,551.00 213.5,551.00 214.0,551.03 214.5,551.21 215.0,551.65 215.5,552.08 216.0,552.16 216.5,551.85 217.0,551.36 217.5,551.08 218.0,551.01 218.5,551.00 219.0,551.00 219.5,551.00 220.0,551.00 220.5,551.00 221.0,551.01 221.5,551.08 222.0,551.36 222.5,551.85 223.0,552.19 223.5,552.29 224.0,552.30 224.5,552.30 225.0,552.30 225.5,552.30 226.0,552.30 226.5,552.30 227.0,552.27 227.5,552.09 228.0,551.65 228.5,551.21 229.0,551.03 229.5,551.00 230.0,551.00 230.5,551.00 231.0,551.00 231.5,551.01 232.0,551.08 232.5,551.36 233.0,551.85 233.5,552.19 234.0,552.29 234.5,552.30 235.0,552.27 235.5,552.08 236.0,551.65 236.5,551.21 237.0,551.03 237.5,551.00 238.0,550.99 238.5,550.99 239.0,550.99 239.5,550.99 240.0,550.99 240.5,550.98 241.0,550.98 241.5,550.98 242.0,550.97 242.5,550.97 243.0,550.96 243.5,550.96 244.0,550.95 244.5,550.94 245.0,550.93 245.5,550.91 246.0,550.90 246.5,550.88 247.0,550.86 247.5,550.84 248.0,550.81 248.5,550.78 249.0,550.74 249.5,550.70 250.0,550.65 250.5,550.60 251.0,550.52 251.5,550.42 252.0,550.30 252.5,550.16 253.0,550.01 253.5,549.85 254.0,549.68 254.5,549.50 255.0,549.30 255.5,549.08 256.0,548.87 256.5,548.66 257.0,548.46 257.5,548.23 258.0,547.98 258.5,547.70 259.0,547.39 259.5,547.05 260.0,546.66 260.5,546.24 261.0,545.77 261.5,545.25 262.0,544.67 262.5,544.00 263.0,543.25 263.5,542.42 264.0,541.48 264.5,540.43 265.0,539.25 265.5,537.92 266.0,536.41 266.5,534.72 267.0,532.80 267.5,530.64 268.0,528.21 268.5,525.48 269.0,522.44 269.5,519.05 270.0,515.30 270.5,511.18 271.0,506.67 271.5,501.78 272.0,496.51 272.5,490.89 273.0,484.94 273.5,478.69 274.0,472.20 274.5,465.51 275.0,458.71 275.5,451.86 276.0,445.03 276.5,438.32 277.0,431.81 277.5,425.58 278.0,419.71 278.5,414.29 279.0,409.37 279.5,405.01 280.0,401.26 280.5,398.15 281.0,395.69 281.5,393.88 282.0,392.70 282.5,392.10 283.0,391.99 283.5,392.49 284.0,393.75 284.5,395.81 285.0,398.67 285.5,402.29 286.0,406.65 286.5,411.66 287.0,417.27 287.5,423.38 288.0,429.89 288.5,436.72 289.0,443.76 289.5,450.90 290.0,458.05 290.5,465.13 291.0,472.05 291.5,478.76 292.0,485.19 292.5,491.30 293.0,497.06 293.5,502.46 294.0,507.48 294.5,512.12 295.0,516.39 295.5,520.29 296.0,523.84 296.5,527.06 297.0,529.96 297.5,532.57 298.0,534.90 298.5,536.98 299.0,538.83 299.5,540.46 300.0,541.89 300.5,543.14 301.0,544.22 301.5,545.15 302.0,545.96 302.5,546.65 303.0,547.24 303.5,547.74 304.0,548.15 304.5,548.50 305.0,548.79 305.5,549.03 306.0,549.23 306.5,549.39 307.0,549.52 307.5,549.62 308.0,549.72 308.5,549.80 309.0,549.86 309.5,549.91 310.0,549.95 310.5,549.99 311.0,550.01 311.5,550.03 312.0,550.05 312.5,550.06 313.0,550.07 313.5,550.08 314.0,550.11 314.5,550.26 315.0,550.61 315.5,551.00 316.0,551.23 316.5,551.29 317.0,551.30 317.5,551.30 318.0,551.30 318.5,551.30 319.0,551.30 319.5,551.30 320.0,551.30 320.5,551.30 321.0,551.30 321.5,551.30 322.0,551.30 322.5,551.30 323.0,551.30 323.5,551.30 324.0,551.30 324.5,551.30 325.0,551.30 325.5,551.30 326.0,551.30 326.5,551.30 327.0,551.30 327.5,551.30 328.0,551.30 328.5,551.30 329.0,551.30 329.5,551.30 330.0,551.30 330.5,551.30 331.0,551.30 331.5,551.30 332.0,551.30 332.5,551.30 333.0,551.30 333.5,551.30 334.0,551.30 334.5,551.30 335.0,551.30 335.5,551.30 336.0,551.30 336.5,551.30 337.0,551.30 337.5,551.30 338.0,551.30 338.5,551.30 339.0,551.30 339.5,551.30 340.0,551.30 340.5,551.30 341.0,551.30 341.5,551.30 342.0,551.30 342.5,551.30 343.0,551.30 343.5,551.30 344.0,551.30 344.5,551.30 345.0,551.30 345.5,551.30 346.0,551.30 346.5,551.30 347.0,551.30 347.5,551.30 348.0,551.30 348.5,551.29 349.0,551.20 349.5,550.94 350.0,550.54 350.5,550.24 351.0,550.12 351.5,550.10 352.0,550.14 352.5,550.35 353.0,550.79 353.5,551.16 354.0,551.28 354.5,551.30 355.0,551.30 355.5,551.30 356.0,551.30 356.5,551.30 357.0,551.30 357.5,551.30 358.0,551.30 358.5,551.30 359.0,551.30 359.5,551.30 360.0,551.27 360.5,551.13 361.0,550.78 361.5,550.40 362.0,550.17 362.5,550.11 363.0,550.17 363.5,550.44 364.0,550.88 364.5,551.20 365.0,551.29 365.5,551.30 366.0,551.30 366.5,551.30 367.0,551.30 367.5,551.30 368.0,551.30 368.5,551.30 369.0,551.30 369.5,551.30 370.0,551.30 370.5,551.30 371.0,551.30 371.5,551.30 372.0,551.30 372.5,551.30 373.0,551.30 373.5,551.30 374.0,551.30 374.5,551.30 375.0,551.30 375.5,551.30 376.0,551.30 376.5,551.30 377.0,551.30 377.5,551.30 378.0,551.30 378.5,551.30 379.0,551.30 379.5,551.30 380.0,551.30 380.5,551.30 381.0,551.30 381.5,551.30 382.0,551.30 382.5,551.30 383.0,551.30 383.5,551.30 384.0,551.30 384.5,551.30 385.0,551.32 385.5,551.43 386.0,551.69 386.5,551.98 387.0,552.15 387.5,552.20 388.0,552.20 388.5,552.20 389.0,552.20 389.5,552.20 390.0,552.20 390.5,552.20 391.0,552.20 391.5,552.20 392.0,552.20 392.5,552.20 393.0,552.20 393.5,552.20 394.0,552.20 394.5,552.20 395.0,552.20 395.5,552.20 396.0,552.20 396.5,552.20 397.0,552.20 397.5,552.20 398.0,552.20 398.5,552.19 399.0,552.13 399.5,551.93 400.0,551.63 400.5,551.40 401.0,551.31 401.5,551.30 402.0,551.30 402.5,551.30 403.0,551.30 403.5,551.30 404.0,551.30 404.5,551.30 405.0,551.30 405.5,551.30 406.0,551.30 406.5,551.30 407.0,551.30 407.5,551.30 408.0,551.30 408.5,551.30 409.0,551.30 409.5,551.30 410.0,551.30 410.5,551.30 411.0,551.30 411.5,551.30 412.0,551.30 412.5,551.30 413.0,551.30 413.5,551.30 414.0,551.30 414.5,551.30 415.0,551.30 415.5,551.30 416.0,551.30 416.5,551.33 417.0,551.48 417.5,551.74 418.0,551.78 418.5,551.54 419.0,551.35 419.5,551.30 420.0,551.30 420.5,551.30 421.0,551.30 421.5,551.30 422.0,551.30 422.5,551.30 423.0,551.30 423.5,551.30 424.0,551.30 424.5,551.30 425.0,551.30 425.5,551.30 426.0,551.30 426.5,551.30 427.0,551.30 427.5,551.30 428.0,551.30 428.5,551.30 429.0,551.30 429.5,551.30 430.0,551.30 430.5,551.30 431.0,551.30 431.5,551.30 432.0,551.30 432.5,551.30 433.0,551.30 433.5,551.30 434.0,551.30 434.5,551.30 435.0,551.30 435.5,551.30 436.0,551.30 436.5,551.30 437.0,551.30 437.5,551.30 438.0,551.30 438.5,551.30 439.0,551.30 439.5,551.30 440.0,551.30 440.5,551.30 441.0,551.34 441.5,551.44 442.0,551.60 442.5,551.79 443.0,551.97 443.5,552.11 444.0,552.18 444.5,552.20 445.0,552.20"/><path d="M483.0,162.40 483.5,162.40 484.0,162.40 484.5,162.40 485.0,162.40 485.5,162.40 486.0,162.40 486.5,162.40 487.0,162.40 487.5,162.40 488.0,162.40 488.5,162.40 489.0,162.40 489.5,162.40 490.0,162.40 490.5,162.40 491.0,162.40 491.5,162.40 492.0,162.40 492.5,162.40 493.0,162.39 493.5,162.37 494.0,162.31 494.5,162.18 495.0,161.99 495.5,161.76 496.0,161.52 496.5,161.28 497.0,161.05 497.5,160.87 498.0,160.78 498.5,160.83 499.0,160.99 499.5,161.22 500.0,161.47 500.5,161.73 501.0,161.98 501.5,162.22 502.0,162.43 502.5,162.54 503.0,162.54 503.5,162.43 504.0,162.27 504.5,162.08 505.0,161.89 505.5,161.71 506.0,161.52 506.5,161.35 507.0,161.21 507.5,161.11 508.0,161.04 508.5,160.99 509.0,160.95 509.5,160.92 510.0,160.88 510.5,160.84 511.0,160.80 511.5,160.78 512.0,160.80 512.5,160.88 513.0,161.04 513.5,161.23 514.0,161.44 514.5,161.66 515.0,161.87 515.5,162.04 516.0,162.14 516.5,162.13 517.0,162.00 517.5,161.81 518.0,161.59 518.5,161.37 519.0,161.16 519.5,160.97 520.0,160.82 520.5,160.74 521.0,160.71 521.5,160.70 522.0,160.70 522.5,160.70 523.0,160.70 523.5,160.70 524.0,160.70 524.5,160.70 525.0,160.70 525.5,160.70 526.0,160.70 526.5,160.70 527.0,160.70 527.5,160.70 528.0,160.71 528.5,160.73 529.0,160.78 529.5,160.89 530.0,161.04 530.5,161.21 531.0,161.39 531.5,161.57 532.0,161.75 532.5,161.93 533.0,162.11 533.5,162.29 534.0,162.45 534.5,162.57 535.0,162.61 535.5,162.55 536.0,162.43 536.5,162.28 537.0,162.12 537.5,161.96 538.0,161.80 538.5,161.64 539.0,161.48 539.5,161.31 540.0,161.16 540.5,161.01 541.0,160.91 541.5,160.87 542.0,160.92 542.5,161.03 543.0,161.17 543.5,161.32 544.0,161.46 544.5,161.61 545.0,161.76 545.5,161.90 546.0,162.04 546.5,162.18 547.0,162.29 547.5,162.35 548.0,162.39 548.5,162.40 549.0,162.40 549.5,162.40 550.0,162.40 550.5,162.40 551.0,162.40 551.5,162.39 552.0,162.37 552.5,162.31 553.0,162.22 553.5,162.10 554.0,161.97 554.5,161.84 555.0,161.71 555.5,161.58 556.0,161.44 556.5,161.31 557.0,161.18 557.5,161.05 558.0,160.92 558.5,160.82 559.0,160.75 559.5,160.72 560.0,160.70 560.5,160.70 561.0,160.70 561.5,160.70 562.0,160.70 562.5,160.70 563.0,160.71 563.5,160.73 564.0,160.79 564.5,160.90 565.0,161.04 565.5,161.20 566.0,161.37 566.5,161.53 567.0,161.70 567.5,161.87 568.0,162.03 568.5,162.17 569.0,162.29 569.5,162.36 570.0,162.39 570.5,162.40 571.0,162.40 571.5,162.40 572.0,162.40 572.5,162.40 573.0,162.40 573.5,162.40 574.0,162.40 574.5,162.40 575.0,162.40 575.5,162.40 576.0,162.40 576.5,162.40 577.0,162.40 577.5,162.40 578.0,162.40 578.5,162.40 579.0,162.40 579.5,162.40 580.0,162.40 580.5,162.40 581.0,162.40 581.5,162.40 582.0,162.40 582.5,162.40 583.0,162.40 583.5,162.40 584.0,162.40 584.5,162.40 585.0,162.40 585.5,162.40 586.0,162.39 586.5,162.37 587.0,162.32 587.5,162.20 588.0,162.03 588.5,161.83 589.0,161.62 589.5,161.40 590.0,161.19 590.5,161.00 591.0,160.87 591.5,160.81 592.0,160.81 592.5,160.85 593.0,160.90 593.5,160.95 594.0,161.00 594.5,161.07 595.0,161.16 595.5,161.29 596.0,161.44 596.5,161.60 597.0,161.77 597.5,161.93 598.0,162.08 598.5,162.20 599.0,162.26 599.5,162.25 600.0,162.19 600.5,162.11 601.0,162.02 601.5,161.93 602.0,161.84 602.5,161.75 603.0,161.68 603.5,161.62 604.0,161.62 604.5,161.67 605.0,161.75 605.5,161.86 606.0,161.97 606.5,162.08 607.0,162.19 607.5,162.31 608.0,162.42 608.5,162.52 609.0,162.61 609.5,162.64 610.0,162.60 610.5,162.48 611.0,162.32 611.5,162.15 612.0,161.97 612.5,161.79 613.0,161.61 613.5,161.42 614.0,161.24 614.5,161.07 615.0,160.92 615.5,160.80 616.0,160.73 616.5,160.71 617.0,160.70 617.5,160.70 618.0,160.70 618.5,160.70 619.0,160.70 619.5,160.70 620.0,160.70 620.5,160.70 621.0,160.70 621.5,160.70 622.0,160.70 622.5,160.70 623.0,160.70 623.5,160.70 624.0,160.70 624.5,160.70 625.0,160.70 625.5,160.70 626.0,160.71 626.5,160.72 627.0,160.77 627.5,160.85 628.0,160.97 628.5,161.11 629.0,161.26 629.5,161.40 630.0,161.55 630.5,161.70 631.0,161.84 631.5,161.99 632.0,162.13 632.5,162.25 633.0,162.33 633.5,162.38 634.0,162.39 634.5,162.40 635.0,162.40 635.5,162.40 636.0,162.40 636.5,162.40 637.0,162.40 637.5,162.40 638.0,162.40 638.5,162.40 639.0,162.39 639.5,162.37 640.0,162.30 640.5,162.18 641.0,162.03 641.5,161.85 642.0,161.67 642.5,161.49 643.0,161.30 643.5,161.12 644.0,160.95 644.5,160.80 645.0,160.70 645.5,160.70 646.0,160.79 646.5,160.93 647.0,161.08 647.5,161.25 648.0,161.41 648.5,161.57 649.0,161.73 649.5,161.89 650.0,162.05 650.5,162.22 651.0,162.38 651.5,162.52 652.0,162.65 652.5,162.72 653.0,162.74 653.5,162.74 654.0,162.72 654.5,162.70 655.0,162.67 655.5,162.65 656.0,162.62 656.5,162.60 657.0,162.58 657.5,162.55 658.0,162.53 658.5,162.50 659.0,162.48 659.5,162.45 660.0,162.42 660.5,162.36 661.0,162.27 661.5,162.15 662.0,162.02 662.5,161.87 663.0,161.73 663.5,161.58 664.0,161.43 664.5,161.29 665.0,161.14 665.5,161.01 666.0,160.90 666.5,160.86 667.0,160.90 667.5,161.01 668.0,161.15 668.5,161.29 669.0,161.44 669.5,161.59 670.0,161.74 670.5,161.88 671.0,162.03 671.5,162.18 672.0,162.33 672.5,162.47 673.0,162.59 673.5,162.68 674.0,162.71 674.5,162.69 675.0,162.65 675.5,162.60 676.0,162.55 676.5,162.49 677.0,162.42 677.5,162.31 678.0,162.15 678.5,161.96 679.0,161.74 679.5,161.53 680.0,161.31 680.5,161.11 681.0,160.93 681.5,160.81 682.0,160.75 682.5,160.73 683.0,160.74 683.5,160.75 684.0,160.76 684.5,160.77 685.0,160.79 685.5,160.80 686.0,160.81 686.5,160.82 687.0,160.83 687.5,160.85 688.0,160.86 688.5,160.87 689.0,160.88 689.5,160.89 690.0,160.90 690.5,160.92 691.0,160.93 691.5,160.94 692.0,160.95 692.5,160.96 693.0,160.98 693.5,160.99 694.0,161.00 694.5,161.01 695.0,161.02 695.5,161.03 696.0,161.05 696.5,161.06 697.0,161.07 697.5,161.10 698.0,161.17 698.5,161.29 699.0,161.46 699.5,161.66 700.0,161.88 700.5,162.09 701.0,162.29 701.5,162.46 702.0,162.53 702.5,162.49 703.0,162.35 703.5,162.14 704.0,161.92 704.5,161.70 705.0,161.48 705.5,161.29 706.0,161.16 706.5,161.09 707.0,161.07 707.5,161.07 708.0,161.07 708.5,161.07 709.0,161.07 709.5,161.07 710.0,161.06 710.5,161.05 711.0,161.04 711.5,161.02 712.0,160.99 712.5,160.96 713.0,160.91 713.5,160.85 714.0,160.79 714.5,160.72 715.0,160.64 715.5,160.56 716.0,160.46 716.5,160.35 717.0,160.23 717.5,160.09 718.0,159.94 718.5,159.78 719.0,159.59 719.5,159.39 720.0,159.16 720.5,158.91 721.0,158.63 721.5,158.33 722.0,157.99 722.5,157.62 723.0,157.21 723.5,156.76 724.0,156.26 724.5,155.71 725.0,155.11 725.5,154.44 726.0,153.71 726.5,152.90 727.0,152.00 727.5,151.00 728.0,149.90 728.5,148.69 729.0,147.34 729.5,145.84 730.0,144.19 730.5,142.37 731.0,140.35 731.5,138.13 732.0,135.68 732.5,132.99 733.0,130.06 733.5,126.85 734.0,123.38 734.5,119.62 735.0,115.57 735.5,111.25 736.0,106.65 736.5,101.79 737.0,96.69 737.5,91.38 738.0,85.89 738.5,80.27 739.0,74.57 739.5,68.83 740.0,63.13 740.5,57.53 741.0,52.11 741.5,46.93 742.0,42.08 742.5,37.62 743.0,33.64 743.5,30.19 744.0,27.34 744.5,25.16 745.0,23.70 745.5,23.03 746.0,23.36 746.5,24.54 747.0,26.43 747.5,28.99 748.0,32.17 748.5,35.90 749.0,40.12 749.5,44.78 750.0,49.81 750.5,55.14 751.0,60.70 751.5,66.41 752.0,72.22 752.5,78.06 753.0,83.88 753.5,89.60 754.0,95.20 754.5,100.61 755.0,105.81 755.5,110.77 756.0,115.47 756.5,119.88 757.0,123.99 757.5,127.81 758.0,131.33 758.5,134.55 759.0,137.49 759.5,140.15 760.0,142.54 760.5,144.70 761.0,146.62 761.5,148.33 762.0,149.84 762.5,151.18 763.0,152.35 763.5,153.39 764.0,154.29 764.5,155.09 765.0,155.78 765.5,156.39 766.0,156.92 766.5,157.38 767.0,157.78 767.5,158.14 768.0,158.45 768.5,158.72 769.0,158.97 769.5,159.18 770.0,159.37 770.5,159.54 771.0,159.69 771.5,159.83 772.0,159.95 772.5,160.06 773.0,160.16 773.5,160.25 774.0,160.33 774.5,160.40 775.0,160.46 775.5,160.52 776.0,160.58 776.5,160.63 777.0,160.67 777.5,160.71 778.0,160.75 778.5,160.78 779.0,160.81 779.5,160.84 780.0,160.86 780.5,160.88 781.0,160.90 781.5,160.91 782.0,160.93 782.5,160.94 783.0,160.95 783.5,160.95 784.0,160.96 784.5,160.97 785.0,160.97 785.5,160.97 786.0,160.98 786.5,160.98 787.0,160.98 787.5,160.98 788.0,160.98 788.5,160.98 789.0,160.99 789.5,161.01 790.0,161.07 790.5,161.17 791.0,161.31 791.5,161.47 792.0,161.63 792.5,161.80 793.0,161.95 793.5,162.06 794.0,162.11 794.5,162.07 795.0,161.95 795.5,161.80 796.0,161.64 796.5,161.48 797.0,161.33 797.5,161.19 798.0,161.09 798.5,161.03 799.0,161.00 799.5,161.00 800.0,161.00 800.5,161.00 801.0,161.00 801.5,161.00 802.0,161.00 802.5,161.00 803.0,161.00 803.5,161.00 804.0,161.00 804.5,161.00 805.0,161.00 805.5,161.00 806.0,161.00 806.5,161.00 807.0,161.00 807.5,161.00 808.0,161.00 808.5,161.00 809.0,161.00 809.5,161.00 810.0,161.00 810.5,161.00 811.0,161.00 811.5,161.00 812.0,161.00 812.5,161.00 813.0,161.00 813.5,161.00 814.0,161.00 814.5,161.00 815.0,161.00 815.5,161.00 816.0,161.00 816.5,161.00 817.0,161.00 817.5,161.00 818.0,161.00 818.5,161.00 819.0,161.00 819.5,161.00 820.0,161.00 820.5,161.00 821.0,161.00 821.5,161.00 822.0,161.00 822.5,161.00 823.0,161.00 823.5,161.00 824.0,161.00 824.5,161.00 825.0,161.00 825.5,161.00 826.0,161.00 826.5,161.00 827.0,161.00 827.5,161.00 828.0,161.00 828.5,161.00 829.0,161.00 829.5,161.00 830.0,161.00 830.5,161.00 831.0,161.00 831.5,161.00 832.0,161.00 832.5,161.00 833.0,161.01 833.5,161.03 834.0,161.07 834.5,161.16 835.0,161.28 835.5,161.41 836.0,161.54 836.5,161.68 837.0,161.81 837.5,161.94 838.0,162.05 838.5,162.11 839.0,162.09 839.5,161.98 840.0,161.80 840.5,161.61 841.0,161.42 841.5,161.24 842.0,161.11 842.5,161.04 843.0,161.01 843.5,161.00 844.0,161.00 844.5,161.00 845.0,161.00 845.5,161.00 846.0,161.00 846.5,161.00 847.0,161.00 847.5,161.00 848.0,161.00 848.5,161.00 849.0,161.00 849.5,161.00 850.0,161.00 850.5,161.00 851.0,161.00 851.5,161.00 852.0,161.00 852.5,161.00 853.0,161.00 853.5,161.00 854.0,161.00 854.5,161.00 855.0,161.00 855.5,161.00 856.0,161.00 856.5,161.00 857.0,161.00 857.5,161.00 858.0,161.00 858.5,161.00 859.0,161.00 859.5,161.00 860.0,161.01 860.5,161.03 861.0,161.08 861.5,161.18 862.0,161.30 862.5,161.44 863.0,161.59 863.5,161.74 864.0,161.88 864.5,162.01 865.0,162.10 865.5,162.11 866.0,162.03 866.5,161.89 867.0,161.72 867.5,161.54 868.0,161.37 868.5,161.22 869.0,161.12 869.5,161.07 870.0,161.08 870.5,161.10 871.0,161.14 871.5,161.18 872.0,161.24 872.5,161.31 873.0,161.40 873.5,161.49 874.0,161.59 874.5,161.69 875.0,161.79 875.5,161.88 876.0,161.95 876.5,161.98 877.0,161.94 877.5,161.86 878.0,161.75 878.5,161.62 879.0,161.50 879.5,161.38 880.0,161.26 880.5,161.15 881.0,161.07 881.5,161.02 882.0,161.01 882.5,161.00 883.0,161.00 883.5,161.00 884.0,161.00 884.5,161.00 885.0,161.00 885.5,161.00 886.0,161.00 886.5,161.00 887.0,161.00 887.5,161.00 888.0,161.00 888.5,161.00 889.0,161.00 889.5,161.00 890.0,161.00 890.5,161.00 891.0,161.00 891.5,161.00 892.0,161.00 892.5,161.00 893.0,161.00 893.5,161.00 894.0,161.00 894.5,161.00 895.0,161.00 895.5,161.00 896.0,161.00 896.5,161.00 897.0,161.00 897.5,161.00 898.0,161.00 898.5,161.00 899.0,161.01 899.5,161.03 900.0,161.08 900.5,161.17 901.0,161.30 901.5,161.43 902.0,161.58 902.5,161.72 903.0,161.86 903.5,162.00 904.0,162.11 904.5,162.16 905.0,162.14 905.5,162.06 906.0,161.96 906.5,161.84 907.0,161.73 907.5,161.64 908.0,161.56"/><path d="M483.0,341.00 483.5,341.00 484.0,341.00 484.5,341.00 485.0,341.00 485.5,341.00 486.0,341.00 486.5,341.00 487.0,341.00 487.5,341.00 488.0,341.00 488.5,341.01 489.0,341.02 489.5,341.05 490.0,341.10 490.5,341.16 491.0,341.23 491.5,341.31 492.0,341.40 492.5,341.48 493.0,341.57 493.5,341.65 494.0,341.73 494.5,341.80 495.0,341.84 495.5,341.86 496.0,341.84 496.5,341.79 497.0,341.71 497.5,341.63 498.0,341.54 498.5,341.45 499.0,341.35 499.5,341.26 500.0,341.17 500.5,341.09 501.0,341.03 501.5,340.99 502.0,341.01 502.5,341.07 503.0,341.18 503.5,341.31 504.0,341.47 504.5,341.63 505.0,341.78 505.5,341.91 506.0,341.99 506.5,342.02 507.0,341.97 507.5,341.86 508.0,341.70 508.5,341.53 509.0,341.36 509.5,341.22 510.0,341.12 510.5,341.09 511.0,341.12 511.5,341.22 512.0,341.35 512.5,341.50 513.0,341.66 513.5,341.80 514.0,341.91 514.5,341.96 515.0,341.92 515.5,341.80 516.0,341.60 516.5,341.35 517.0,341.08 517.5,340.81 518.0,340.54 518.5,340.30 519.0,340.12 519.5,340.00 520.0,339.97 520.5,340.00 521.0,340.08 521.5,340.18 522.0,340.28 522.5,340.39 523.0,340.51 523.5,340.62 524.0,340.73 524.5,340.83 525.0,340.92 525.5,341.01 526.0,341.09 526.5,341.16 527.0,341.22 527.5,341.28 528.0,341.34 528.5,341.41 529.0,341.47 529.5,341.53 530.0,341.59 530.5,341.66 531.0,341.74 531.5,341.83 532.0,341.93 532.5,342.06 533.0,342.19 533.5,342.33 534.0,342.48 534.5,342.62 535.0,342.76 535.5,342.89 536.0,342.99 536.5,343.06 537.0,343.06 537.5,343.01 538.0,342.92 538.5,342.80 539.0,342.66 539.5,342.52 540.0,342.38 540.5,342.24 541.0,342.10 541.5,341.97 542.0,341.86 542.5,341.76 543.0,341.67 543.5,341.60 544.0,341.53 544.5,341.46 545.0,341.39 545.5,341.32 546.0,341.25 546.5,341.20 547.0,341.15 547.5,341.14 548.0,341.15 548.5,341.20 549.0,341.28 549.5,341.38 550.0,341.48 550.5,341.58 551.0,341.67 551.5,341.74 552.0,341.77 552.5,341.75 553.0,341.67 553.5,341.53 554.0,341.37 554.5,341.19 555.0,341.00 555.5,340.80 556.0,340.61 556.5,340.42 557.0,340.23 557.5,340.03 558.0,339.84 558.5,339.65 559.0,339.47 559.5,339.31 560.0,339.18 560.5,339.11 561.0,339.12 561.5,339.20 562.0,339.33 562.5,339.50 563.0,339.69 563.5,339.88 564.0,340.07 564.5,340.26 565.0,340.45 565.5,340.65 566.0,340.84 566.5,341.02 567.0,341.20 567.5,341.34 568.0,341.42 568.5,341.43 569.0,341.34 569.5,341.17 570.0,340.94 570.5,340.68 571.0,340.41 571.5,340.14 572.0,339.86 572.5,339.59 573.0,339.31 573.5,339.05 574.0,338.82 574.5,338.64 575.0,338.53 575.5,338.51 576.0,338.56 576.5,338.66 577.0,338.78 577.5,338.92 578.0,339.07 578.5,339.21 579.0,339.35 579.5,339.50 580.0,339.64 580.5,339.79 581.0,339.93 581.5,340.08 582.0,340.22 582.5,340.36 583.0,340.50 583.5,340.63 584.0,340.73 584.5,340.79 585.0,340.81 585.5,340.78 586.0,340.72 586.5,340.63 587.0,340.54 587.5,340.45 588.0,340.37 588.5,340.32 589.0,340.31 589.5,340.35 590.0,340.44 590.5,340.57 591.0,340.72 591.5,340.87 592.0,341.01 592.5,341.11 593.0,341.15 593.5,341.13 594.0,341.06 594.5,340.95 595.0,340.82 595.5,340.68 596.0,340.54 596.5,340.39 597.0,340.26 597.5,340.14 598.0,340.06 598.5,340.03 599.0,340.07 599.5,340.17 600.0,340.30 600.5,340.41 601.0,340.49 601.5,340.54 602.0,340.58 602.5,340.60 603.0,340.62 603.5,340.64 604.0,340.66 604.5,340.68 605.0,340.70 605.5,340.72 606.0,340.74 606.5,340.76 607.0,340.78 607.5,340.80 608.0,340.83 608.5,340.85 609.0,340.87 609.5,340.89 610.0,340.91 610.5,340.93 611.0,340.96 611.5,341.00 612.0,341.07 612.5,341.16 613.0,341.28 613.5,341.43 614.0,341.58 614.5,341.74 615.0,341.87 615.5,341.97 616.0,342.00 616.5,341.95 617.0,341.84 617.5,341.68 618.0,341.49 618.5,341.28 619.0,341.07 619.5,340.87 620.0,340.68 620.5,340.51 621.0,340.38 621.5,340.31 622.0,340.29 622.5,340.32 623.0,340.37 623.5,340.44 624.0,340.52 624.5,340.60 625.0,340.67 625.5,340.75 626.0,340.82 626.5,340.88 627.0,340.93 627.5,340.96 628.0,340.98 628.5,340.99 629.0,341.00 629.5,341.00 630.0,341.00 630.5,341.00 631.0,341.01 631.5,341.03 632.0,341.08 632.5,341.15 633.0,341.24 633.5,341.36 634.0,341.50 634.5,341.63 635.0,341.77 635.5,341.90 636.0,342.00 636.5,342.06 637.0,342.07 637.5,342.02 638.0,341.93 638.5,341.81 639.0,341.68 639.5,341.54 640.0,341.40 640.5,341.26 641.0,341.12 641.5,340.97 642.0,340.83 642.5,340.70 643.0,340.56 643.5,340.44 644.0,340.35 644.5,340.30 645.0,340.29 645.5,340.33 646.0,340.40 646.5,340.49 647.0,340.58 647.5,340.68 648.0,340.77 648.5,340.85 649.0,340.91 649.5,340.95 650.0,340.98 650.5,340.99 651.0,341.00 651.5,341.00 652.0,341.00 652.5,341.00 653.0,341.00 653.5,341.00 654.0,341.00 654.5,341.00 655.0,341.00 655.5,341.00 656.0,341.00 656.5,341.00 657.0,341.00 657.5,341.00 658.0,341.00 658.5,341.00 659.0,341.00 659.5,341.00 660.0,341.00 660.5,341.00 661.0,341.00 661.5,341.00 662.0,341.00 662.5,341.00 663.0,341.00 663.5,341.00 664.0,341.00 664.5,341.00 665.0,341.00 665.5,341.00 666.0,341.00 666.5,341.00 667.0,341.00 667.5,341.00 668.0,341.00 668.5,341.00 669.0,341.00 669.5,340.99 670.0,340.97 670.5,340.93 671.0,340.86 671.5,340.75 672.0,340.61 672.5,340.44 673.0,340.25 673.5,340.08 674.0,339.94 674.5,339.85 675.0,339.83 675.5,339.90 676.0,340.03 676.5,340.21 677.0,340.41 677.5,340.62 678.0,340.84 678.5,341.05 679.0,341.26 679.5,341.47 680.0,341.67 680.5,341.83 681.0,341.94 681.5,341.98 682.0,341.95 682.5,341.84 683.0,341.70 683.5,341.53 684.0,341.35 684.5,341.16 685.0,340.98 685.5,340.80 686.0,340.62 686.5,340.44 687.0,340.27 687.5,340.13 688.0,340.03 688.5,340.00 689.0,340.03 689.5,340.14 690.0,340.29 690.5,340.46 691.0,340.64 691.5,340.82 692.0,340.98 692.5,341.11 693.0,341.20 693.5,341.24 694.0,341.24 694.5,341.20 695.0,341.17 695.5,341.14 696.0,341.13 696.5,341.16 697.0,341.22 697.5,341.30 698.0,341.40 698.5,341.51 699.0,341.62 699.5,341.73 700.0,341.83 700.5,341.94 701.0,342.02 701.5,342.09 702.0,342.11 702.5,342.09 703.0,342.02 703.5,341.93 704.0,341.81 704.5,341.69 705.0,341.56 705.5,341.44 706.0,341.32 706.5,341.21 707.0,341.12 707.5,341.06 708.0,341.01 708.5,340.98 709.0,340.96 709.5,340.95 710.0,340.94 710.5,340.93 711.0,340.91 711.5,340.90 712.0,340.89 712.5,340.88 713.0,340.87 713.5,340.86 714.0,340.85 714.5,340.83 715.0,340.81 715.5,340.77 716.0,340.71 716.5,340.62 717.0,340.51 717.5,340.39 718.0,340.25 718.5,340.13 719.0,340.02 719.5,339.96 720.0,339.96 720.5,340.01 721.0,340.12 721.5,340.26 722.0,340.40 722.5,340.54 723.0,340.65 723.5,340.73 724.0,340.78 724.5,340.81 725.0,340.82 725.5,340.83 726.0,340.84 726.5,340.85 727.0,340.85 727.5,340.86 728.0,340.87 728.5,340.87 729.0,340.88 729.5,340.89 730.0,340.89 730.5,340.90 731.0,340.91 731.5,340.91 732.0,340.92 732.5,340.93 733.0,340.93 733.5,340.94 734.0,340.95 734.5,340.95 735.0,340.96 735.5,340.97 736.0,340.98 736.5,340.98 737.0,340.99 737.5,341.00 738.0,341.00 738.5,341.01 739.0,341.02 739.5,341.02 740.0,341.03 740.5,341.04 741.0,341.04 741.5,341.05 742.0,341.06 742.5,341.06 743.0,341.07 743.5,341.08 744.0,341.10 744.5,341.13 745.0,341.18 745.5,341.26 746.0,341.36 746.5,341.48 747.0,341.62 747.5,341.76 748.0,341.89 748.5,342.02 749.0,342.13 749.5,342.20 750.0,342.21 750.5,342.14 751.0,342.01 751.5,341.83 752.0,341.62 752.5,341.41 753.0,341.22 753.5,341.06 754.0,340.94 754.5,340.86 755.0,340.82 755.5,340.81 756.0,340.82 756.5,340.84 757.0,340.90 757.5,340.98 758.0,341.09 758.5,341.22 759.0,341.36 759.5,341.51 760.0,341.65 760.5,341.77 761.0,341.87 761.5,341.94 762.0,341.98 762.5,341.98 763.0,341.96 763.5,341.93 764.0,341.90 764.5,341.87 765.0,341.83 765.5,341.80 766.0,341.76 766.5,341.72 767.0,341.68 767.5,341.64 768.0,341.61 768.5,341.56 769.0,341.52 769.5,341.48 770.0,341.44 770.5,341.39 771.0,341.34 771.5,341.30 772.0,341.26 772.5,341.24 773.0,341.24 773.5,341.26 774.0,341.32 774.5,341.39 775.0,341.47 775.5,341.56 776.0,341.64 776.5,341.70 777.0,341.73 777.5,341.72 778.0,341.66 778.5,341.56 779.0,341.43 779.5,341.28 780.0,341.13 780.5,340.98 781.0,340.85 781.5,340.73 782.0,340.62 782.5,340.53 783.0,340.43 783.5,340.33 784.0,340.23 784.5,340.12 785.0,340.00 785.5,339.88 786.0,339.75 786.5,339.62 787.0,339.48 787.5,339.32 788.0,339.16 788.5,338.99 789.0,338.81 789.5,338.62 790.0,338.42 790.5,338.21 791.0,337.98 791.5,337.73 792.0,337.46 792.5,337.17 793.0,336.85 793.5,336.51 794.0,336.12 794.5,335.70 795.0,335.23 795.5,334.70 796.0,334.11 796.5,333.45 797.0,332.70 797.5,331.85 798.0,330.90 798.5,329.82 799.0,328.60 799.5,327.23 800.0,325.68 800.5,323.96 801.0,322.03 801.5,319.88 802.0,317.50 802.5,314.88 803.0,312.00 803.5,308.86 804.0,305.46 804.5,301.79 805.0,297.86 805.5,293.67 806.0,289.24 806.5,284.59 807.0,279.75 807.5,274.73 808.0,269.59 808.5,264.35 809.0,259.07 809.5,253.80 810.0,248.58 810.5,243.48 811.0,238.54 811.5,233.83 812.0,229.40 812.5,225.31 813.0,221.59 813.5,218.31 814.0,215.49 814.5,213.16 815.0,211.36 815.5,210.08 816.0,209.34 816.5,209.11 817.0,209.23 817.5,209.67 818.0,210.51 818.5,211.77 819.0,213.48 819.5,215.66 820.0,218.29 820.5,221.38 821.0,224.89 821.5,228.80 822.0,233.07 822.5,237.66 823.0,242.52 823.5,247.58 824.0,252.81 824.5,258.14 825.0,263.50 825.5,268.86 826.0,274.15 826.5,279.32 827.0,284.34 827.5,289.16 828.0,293.76 828.5,298.10 829.0,302.17 829.5,305.97 830.0,309.47 830.5,312.69 831.0,315.62 831.5,318.28 832.0,320.68 832.5,322.83 833.0,324.76 833.5,326.48 834.0,328.00 834.5,329.35 835.0,330.55 835.5,331.61 836.0,332.56 836.5,333.40 837.0,334.14 837.5,334.81 838.0,335.42 838.5,335.96 839.0,336.46 839.5,336.91 840.0,337.32 840.5,337.70 841.0,338.05 841.5,338.38 842.0,338.68 842.5,338.96 843.0,339.23 843.5,339.47 844.0,339.70 844.5,339.92 845.0,340.12 845.5,340.31 846.0,340.48 846.5,340.64 847.0,340.79 847.5,340.93 848.0,341.04 848.5,341.10 849.0,341.09 849.5,340.98 850.0,340.76 850.5,340.43 851.0,340.03 851.5,339.60 852.0,339.15 852.5,338.71 853.0,338.34 853.5,338.07 854.0,337.96 854.5,338.03 855.0,338.27 855.5,338.61 856.0,339.02 856.5,339.44 857.0,339.88 857.5,340.31 858.0,340.72 858.5,341.11 859.0,341.43 859.5,341.67 860.0,341.79 860.5,341.80 861.0,341.72 861.5,341.59 862.0,341.45 862.5,341.30 863.0,341.18 863.5,341.09 864.0,341.03 864.5,341.00 865.0,340.99 865.5,340.99 866.0,341.00 866.5,341.00 867.0,341.01 867.5,341.01 868.0,341.02 868.5,341.02 869.0,341.03 869.5,341.03 870.0,341.04 870.5,341.04 871.0,341.04 871.5,341.05 872.0,341.05 872.5,341.05 873.0,341.06 873.5,341.06 874.0,341.06 874.5,341.07 875.0,341.07 875.5,341.07 876.0,341.08 876.5,341.08 877.0,341.08 877.5,341.08 878.0,341.08 878.5,341.05 879.0,341.00 879.5,340.92 880.0,340.79 880.5,340.63 881.0,340.45 881.5,340.27 882.0,340.09 882.5,339.95 883.0,339.86 883.5,339.85 884.0,339.93 884.5,340.08 885.0,340.28 885.5,340.50 886.0,340.73 886.5,340.96 887.0,341.18 887.5,341.39 888.0,341.56 888.5,341.68 889.0,341.72 889.5,341.70 890.0,341.63 890.5,341.52 891.0,341.42 891.5,341.34 892.0,341.30 892.5,341.30 893.0,341.35 893.5,341.43 894.0,341.53 894.5,341.63 895.0,341.72 895.5,341.78 896.0,341.80 896.5,341.78 897.0,341.70 897.5,341.60 898.0,341.48 898.5,341.34 899.0,341.21 899.5,341.07 900.0,340.94 900.5,340.80 901.0,340.67 901.5,340.55 902.0,340.46 902.5,340.41 903.0,340.40 903.5,340.44 904.0,340.51 904.5,340.60 905.0,340.71 905.5,340.82 906.0,340.92 906.5,341.02 907.0,341.11 907.5,341.19 908.0,341.24"/>
</g>
<g stroke="#444444" stroke-width="1.8">
<path d="M17.00,180.00 L17.00,175.50 L445.00,175.50 L445.00,184.10 M55.91,175.50 L55.91,184.10 M94.82,175.50 L94.82,180.00 M133.73,175.50 L133.73,184.10 M172.64,175.50 L172.64,180.00 M211.55,175.50 L211.55,184.10 M250.45,175.50 L250.45,180.00 M289.36,175.50 L289.36,184.10 M328.27,175.50 L328.27,180.00 M367.18,175.50 L367.18,184.10 M406.09,175.50 L406.09,180.00"/><path d="M17.00,362.10 L17.00,357.60 L445.00,357.60 L445.00,366.20 M55.91,357.60 L55.91,366.20 M94.82,357.60 L94.82,362.10 M133.73,357.60 L133.73,366.20 M172.64,357.60 L172.64,362.10 M211.55,357.60 L211.55,366.20 M250.45,357.60 L250.45,362.10 M289.36,357.60 L289.36,366.20 M328.27,357.60 L328.27,362.10 M367.18,357.60 L367.18,366.20 M406.09,357.60 L406.09,362.10"/><path d="M17.00,564.10 L17.00,559.60 L445.00,559.60 L445.00,568.20 M55.91,559.60 L55.91,568.20 M94.82,559.60 L94.82,564.10 M133.73,559.60 L133.73,568.20 M172.64,559.60 L172.64,564.10 M211.55,559.60 L211.55,568.20 M250.45,559.60 L250.45,564.10 M289.36,559.60 L289.36,568.20 M328.27,559.60 L328.27,564.10 M367.18,559.60 L367.18,568.20 M406.09,559.60 L406.09,564.10"/><path d="M483.30,178.80 L483.30,174.30 L910.70,174.30 L910.70,182.90 M522.15,174.30 L522.15,182.90 M561.01,174.30 L561.01,178.80 M599.86,174.30 L599.86,182.90 M638.72,174.30 L638.72,178.80 M677.57,174.30 L677.57,182.90 M716.43,174.30 L716.43,178.80 M755.28,174.30 L755.28,182.90 M794.14,174.30 L794.14,178.80 M832.99,174.30 L832.99,182.90 M871.85,174.30 L871.85,178.80"/><path d="M483.30,363.30 L483.30,358.80 L910.70,358.80 L910.70,367.40 M522.15,358.80 L522.15,367.40 M561.01,358.80 L561.01,363.30 M599.86,358.80 L599.86,367.40 M638.72,358.80 L638.72,363.30 M677.57,358.80 L677.57,367.40 M716.43,358.80 L716.43,363.30 M755.28,358.80 L755.28,367.40 M794.14,358.80 L794.14,363.30 M832.99,358.80 L832.99,367.40 M871.85,358.80 L871.85,363.30"/>
</g>
<g stroke="#111111" stroke-width="2.0">
<path d="M17.0,169.00 17.5,169.00 18.0,169.00 18.5,169.00 19.0,169.00 19.5,169.00 20.0,169.00 20.5,169.00 21.0,169.00 21.5,169.00 22.0,169.00 22.5,169.00 23.0,168.99 23.5,168.99 24.0,168.99 24.5,168.99 25.0,168.99 25.5,168.99 26.0,168.99 26.5,168.99 27.0,168.99 27.5,168.99 28.0,168.99 28.5,168.99 29.0,168.99 29.5,168.99 30.0,168.99 30.5,168.99 31.0,168.99 31.5,168.99 32.0,168.99 32.5,168.99 33.0,168.99 33.5,168.99 34.0,168.99 34.5,168.99 35.0,168.98 35.5,168.98 36.0,168.98 36.5,168.98 37.0,168.98 37.5,168.98 38.0,168.98 38.5,168.98 39.0,168.98 39.5,168.98 40.0,168.98 40.5,168.98 41.0,168.98 41.5,168.98 42.0,168.98 42.5,168.98 43.0,168.98 43.5,168.98 44.0,168.98 44.5,168.98 45.0,168.98 45.5,168.98 46.0,168.98 46.5,168.98 47.0,168.97 47.5,168.97 48.0,168.97 48.5,168.97 49.0,168.97 49.5,168.97 50.0,168.97 50.5,168.97 51.0,168.97 51.5,168.97 52.0,168.97 52.5,168.97 53.0,168.97 53.5,168.97 54.0,168.97 54.5,168.97 55.0,168.97 55.5,168.97 56.0,168.97 56.5,168.97 57.0,168.97 57.5,168.97 58.0,168.97 58.5,168.96 59.0,168.96 59.5,168.96 60.0,168.96 60.5,168.96 61.0,168.96 61.5,168.96 62.0,168.96 62.5,168.96 63.0,168.96 63.5,168.96 64.0,168.96 64.5,168.96 65.0,168.96 65.5,168.96 66.0,168.96 66.5,168.96 67.0,168.96 67.5,168.96 68.0,168.96 68.5,168.96 69.0,168.96 69.5,168.96 70.0,168.96 70.5,168.95 71.0,168.95 71.5,168.95 72.0,168.95 72.5,168.95 73.0,168.95 73.5,168.95 74.0,168.95 74.5,168.95 75.0,168.95 75.5,168.95 76.0,168.95 76.5,168.95 77.0,168.95 77.5,168.95 78.0,168.95 78.5,168.95 79.0,168.95 79.5,168.95 80.0,168.95 80.5,168.95 81.0,168.95 81.5,168.95 82.0,168.94 82.5,168.94 83.0,168.94 83.5,168.94 84.0,168.94 84.5,168.94 85.0,168.94 85.5,168.94 86.0,168.94 86.5,168.94 87.0,168.94 87.5,168.94 88.0,168.94 88.5,168.94 89.0,168.94 89.5,168.94 90.0,168.94 90.5,168.94 91.0,168.94 91.5,168.94 92.0,168.94 92.5,168.94 93.0,168.94 93.5,168.94 94.0,168.93 94.5,168.93 95.0,168.93 95.5,168.93 96.0,168.93 96.5,168.93 97.0,168.93 97.5,168.93 98.0,168.93 98.5,168.93 99.0,168.93 99.5,168.93 100.0,168.93 100.5,168.93 101.0,168.93 101.5,168.93 102.0,168.93 102.5,168.93 103.0,168.93 103.5,168.93 104.0,168.93 104.5,168.93 105.0,168.93 105.5,168.93 106.0,168.92 106.5,168.92 107.0,168.92 107.5,168.92 108.0,168.92 108.5,168.92 109.0,168.92 109.5,168.92 110.0,168.92 110.5,168.92 111.0,168.92 111.5,168.92 112.0,168.92 112.5,168.92 113.0,168.92 113.5,168.92 114.0,168.92 114.5,168.92 115.0,168.92 115.5,168.92 116.0,168.92 116.5,168.92 117.0,168.92 117.5,168.91 118.0,168.91 118.5,168.91 119.0,168.91 119.5,168.91 120.0,168.91 120.5,168.91 121.0,168.91 121.5,168.91 122.0,168.91 122.5,168.91 123.0,168.91 123.5,168.91 124.0,168.91 124.5,168.91 125.0,168.91 125.5,168.91 126.0,168.91 126.5,168.91 127.0,168.91 127.5,168.91 128.0,168.91 128.5,168.91 129.0,168.91 129.5,168.90 130.0,168.90 130.5,168.90 131.0,168.90 131.5,168.90 132.0,168.90 132.5,168.90 133.0,168.90 133.5,168.90 134.0,168.90 134.5,168.90 135.0,168.90 135.5,168.90 136.0,168.90 136.5,168.90 137.0,168.90 137.5,168.90 138.0,168.90 138.5,168.90 139.0,168.90 139.5,168.90 140.0,168.90 140.5,168.90 141.0,168.89 141.5,168.89 142.0,168.89 142.5,168.89 143.0,168.89 143.5,168.89 144.0,168.89 144.5,168.89 145.0,168.89 145.5,168.89 146.0,168.89 146.5,168.89 147.0,168.89 147.5,168.89 148.0,168.89 148.5,168.89 149.0,168.89 149.5,168.89 150.0,168.89 150.5,168.89 151.0,168.89 151.5,168.89 152.0,168.89 152.5,168.89 153.0,168.88 153.5,168.88 154.0,168.88 154.5,168.88 155.0,168.88 155.5,168.88 156.0,168.88 156.5,168.88 157.0,168.88 157.5,168.88 158.0,168.88 158.5,168.88 159.0,168.88 159.5,168.88 160.0,168.88 160.5,168.88 161.0,168.88 161.5,168.88 162.0,168.88 162.5,168.88 163.0,168.88 163.5,168.88 164.0,168.88 164.5,168.88 165.0,168.88 165.5,168.87 166.0,168.87 166.5,168.87 167.0,168.87 167.5,168.87 168.0,168.87 168.5,168.87 169.0,168.87 169.5,168.87 170.0,168.87 170.5,168.87 171.0,168.87 171.5,168.87 172.0,168.87 172.5,168.87 173.0,168.87 173.5,168.87 174.0,168.87 174.5,168.87 175.0,168.87 175.5,168.87 176.0,168.87 176.5,168.87 177.0,168.87 177.5,168.86 178.0,168.86 178.5,168.86 179.0,168.86 179.5,168.86 180.0,168.86 180.5,168.86 181.0,168.86 181.5,168.86 182.0,168.86 182.5,168.86 183.0,168.86 183.5,168.86 184.0,168.86 184.5,168.86 185.0,168.86 185.5,168.86 186.0,168.86 186.5,168.86 187.0,168.86 187.5,168.86 188.0,168.86 188.5,168.86 189.0,168.85 189.5,168.85 190.0,168.85 190.5,168.85 191.0,168.85 191.5,168.85 192.0,168.85 192.5,168.85 193.0,168.85 193.5,168.85 194.0,168.85 194.5,168.85 195.0,168.85 195.5,168.85 196.0,168.85 196.5,168.85 197.0,168.85 197.5,168.85 198.0,168.85 198.5,168.85 199.0,168.85 199.5,168.85 200.0,168.85 200.5,168.85 201.0,168.84 201.5,168.84 202.0,168.84 202.5,168.84 203.0,168.84 203.5,168.84 204.0,168.84 204.5,168.84 205.0,168.84 205.5,168.84 206.0,168.84 206.5,168.84 207.0,168.84 207.5,168.84 208.0,168.84 208.5,168.84 209.0,168.84 209.5,168.84 210.0,168.84 210.5,168.84 211.0,168.84 211.5,168.84 212.0,168.84 212.5,168.84 213.0,168.83 213.5,168.83 214.0,168.83 214.5,168.83 215.0,168.83 215.5,168.83 216.0,168.83 216.5,168.83 217.0,168.83 217.5,168.83 218.0,168.83 218.5,168.83 219.0,168.83 219.5,168.83 220.0,168.83 220.5,168.83 221.0,168.83 221.5,168.83 222.0,168.83 222.5,168.83 223.0,168.83 223.5,168.83 224.0,168.83 224.5,168.83 225.0,168.82 225.5,168.82 226.0,168.82 226.5,168.82 227.0,168.82 227.5,168.82 228.0,168.82 228.5,168.82 229.0,168.82 229.5,168.82 230.0,168.82 230.5,168.82 231.0,168.82 231.5,168.82 232.0,168.82 232.5,168.82 233.0,168.82 233.5,168.82 234.0,168.82 234.5,168.82 235.0,168.82 235.5,168.82 236.0,168.82 236.5,168.81 237.0,168.81 237.5,168.81 238.0,168.81 238.5,168.81 239.0,168.81 239.5,168.81 240.0,168.81 240.5,168.81 241.0,168.81 241.5,168.81 242.0,168.81 242.5,168.80 243.0,168.80 243.5,168.80 244.0,168.80 244.5,168.79 245.0,168.79 245.5,168.79 246.0,168.78 246.5,168.77 247.0,168.77 247.5,168.76 248.0,168.75 248.5,168.74 249.0,168.73 249.5,168.71 250.0,168.69 250.5,168.67 251.0,168.65 251.5,168.62 252.0,168.59 252.5,168.55 253.0,168.51 253.5,168.46 254.0,168.41 254.5,168.34 255.0,168.27 255.5,168.19 256.0,168.10 256.5,168.00 257.0,167.89 257.5,167.76 258.0,167.62 258.5,167.46 259.0,167.29 259.5,167.09 260.0,166.88 260.5,166.64 261.0,166.38 261.5,166.10 262.0,165.78 262.5,165.44 263.0,165.08 263.5,164.68 264.0,164.25 264.5,163.78 265.0,163.28 265.5,162.74 266.0,162.16 266.5,161.54 267.0,160.87 267.5,160.15 268.0,159.37 268.5,158.53 269.0,157.62 269.5,156.63 270.0,155.55 270.5,154.38 271.0,153.10 271.5,151.71 272.0,150.19 272.5,148.55 273.0,146.77 273.5,144.86 274.0,142.83 274.5,140.67 275.0,138.42 275.5,136.08 276.0,133.68 276.5,131.26 277.0,128.85 277.5,126.48 278.0,124.20 278.5,122.05 279.0,120.05 279.5,118.25 280.0,116.67 280.5,115.34 281.0,114.26 281.5,113.46 282.0,112.91 282.5,112.61 283.0,112.52 283.5,112.63 284.0,112.98 284.5,113.60 285.0,114.50 285.5,115.67 286.0,117.10 286.5,118.78 287.0,120.66 287.5,122.71 288.0,124.90 288.5,127.19 289.0,129.52 289.5,131.88 290.0,134.21 290.5,136.50 291.0,138.71 291.5,140.83 292.0,142.86 292.5,144.77 293.0,146.58 293.5,148.28 294.0,149.87 294.5,151.37 295.0,152.77 295.5,154.08 296.0,155.32 296.5,156.47 297.0,157.55 297.5,158.57 298.0,159.52 298.5,160.40 299.0,161.23 299.5,161.99 300.0,162.70 300.5,163.35 301.0,163.95 301.5,164.51 302.0,165.01 302.5,165.47 303.0,165.88 303.5,166.26 304.0,166.59 304.5,166.90 305.0,167.17 305.5,167.41 306.0,167.62 306.5,167.81 307.0,167.98 307.5,168.12 308.0,168.25 308.5,168.36 309.0,168.45 309.5,168.54 310.0,168.61 310.5,168.67 311.0,168.72 311.5,168.76 312.0,168.80 312.5,168.83 313.0,168.86 313.5,168.88 314.0,168.89 314.5,168.90 315.0,168.91 315.5,168.92 316.0,168.92 316.5,168.91 317.0,168.91 317.5,168.90 318.0,168.89 318.5,168.87 319.0,168.85 319.5,168.83 320.0,168.80 320.5,168.76 321.0,168.72 321.5,168.67 322.0,168.61 322.5,168.54 323.0,168.46 323.5,168.36 324.0,168.26 324.5,168.14 325.0,168.00 325.5,167.84 326.0,167.66 326.5,167.46 327.0,167.23 327.5,166.97 328.0,166.68 328.5,166.36 329.0,165.99 329.5,165.59 330.0,165.14 330.5,164.63 331.0,164.08 331.5,163.46 332.0,162.78 332.5,162.03 333.0,161.20 333.5,160.29 334.0,159.29 334.5,158.19 335.0,156.99 335.5,155.67 336.0,154.23 336.5,152.66 337.0,150.94 337.5,149.07 338.0,147.03 338.5,144.80 339.0,142.38 339.5,139.76 340.0,136.92 340.5,133.85 341.0,130.55 341.5,127.01 342.0,123.22 342.5,119.20 343.0,114.95 343.5,110.47 344.0,105.79 344.5,100.92 345.0,95.91 345.5,90.77 346.0,85.55 346.5,80.29 347.0,75.05 347.5,69.87 348.0,64.80 348.5,59.89 349.0,55.21 349.5,50.80 350.0,46.71 350.5,42.97 351.0,39.63 351.5,36.72 352.0,34.25 352.5,32.24 353.0,30.70 353.5,29.62 354.0,28.97 354.5,28.73 355.0,28.78 355.5,29.12 356.0,29.82 356.5,30.94 357.0,32.50 357.5,34.52 358.0,37.00 358.5,39.95 359.0,43.34 359.5,47.17 360.0,51.39 360.5,55.97 361.0,60.87 361.5,66.04 362.0,71.44 362.5,77.00 363.0,82.67 363.5,88.39 364.0,94.12 364.5,99.79 365.0,105.36 365.5,110.78 366.0,116.01 366.5,121.03 367.0,125.78 367.5,130.27 368.0,134.46 368.5,138.34 369.0,141.92 369.5,145.18 370.0,148.14 370.5,150.79 371.0,153.16 371.5,155.25 372.0,157.09 372.5,158.70 373.0,160.09 373.5,161.29 374.0,162.31 374.5,163.18 375.0,163.91 375.5,164.53 376.0,165.04 376.5,165.46 377.0,165.81 377.5,166.09 378.0,166.32 378.5,166.51 379.0,166.66 379.5,166.78 380.0,166.88 380.5,166.96 381.0,167.02 381.5,167.08 382.0,167.12 382.5,167.15 383.0,167.19 383.5,167.21 384.0,167.24 384.5,167.26 385.0,167.28 385.5,167.30 386.0,167.32 386.5,167.33 387.0,167.34 387.5,167.36 388.0,167.37 388.5,167.38 389.0,167.39 389.5,167.39 390.0,167.40 390.5,167.41 391.0,167.41 391.5,167.41 392.0,167.42 392.5,167.42 393.0,167.42 393.5,167.42 394.0,167.43 394.5,167.44 395.0,167.48 395.5,167.58 396.0,167.75 396.5,167.98 397.0,168.25 397.5,168.48 398.0,168.65 398.5,168.75 399.0,168.80 399.5,168.83 400.0,168.85 400.5,168.87 401.0,168.89 401.5,168.91 402.0,168.93 402.5,168.95 403.0,168.97 403.5,168.98 404.0,169.00 404.5,169.02 405.0,169.03 405.5,169.05 406.0,169.06 406.5,169.08 407.0,169.09 407.5,169.11 408.0,169.12 408.5,169.14 409.0,169.15 409.5,169.16 410.0,169.17 410.5,169.17 411.0,169.17 411.5,169.17 412.0,169.17 412.5,169.17 413.0,169.17 413.5,169.17 414.0,169.16 414.5,169.16 415.0,169.16 415.5,169.16 416.0,169.15 416.5,169.15 417.0,169.15 417.5,169.14 418.0,169.14 418.5,169.14 419.0,169.14 419.5,169.13 420.0,169.13 420.5,169.13 421.0,169.12 421.5,169.12 422.0,169.12 422.5,169.11 423.0,169.11 423.5,169.11 424.0,169.11 424.5,169.10 425.0,169.10 425.5,169.10 426.0,169.09 426.5,169.09 427.0,169.09 427.5,169.09 428.0,169.08 428.5,169.08 429.0,169.08 429.5,169.08 430.0,169.07 430.5,169.07 431.0,169.07 431.5,169.07 432.0,169.06 432.5,169.06 433.0,169.06 433.5,169.06 434.0,169.05 434.5,169.05 435.0,169.05 435.5,169.05 436.0,169.04 436.5,169.04 437.0,169.04 437.5,169.04 438.0,169.03 438.5,169.03 439.0,169.03 439.5,169.03 440.0,169.02 440.5,169.02 441.0,169.02 441.5,169.02 442.0,169.01 442.5,169.01 443.0,169.01 443.5,169.01 444.0,169.01 444.5,169.00 445.0,169.00"/><path d="M17.0,348.07 17.5,348.55 18.0,348.95 18.5,349.08 19.0,349.10 19.5,349.10 20.0,349.10 20.5,349.07 21.0,348.89 21.5,348.45 22.0,348.01 22.5,347.83 23.0,347.80 23.5,347.80 24.0,347.80 24.5,347.80 25.0,347.80 25.5,347.80 26.0,347.80 26.5,347.80 27.0,347.80 27.5,347.80 28.0,347.80 28.5,347.80 29.0,347.84 29.5,348.07 30.0,348.55 30.5,348.94 31.0,349.04 31.5,348.83 32.0,348.35 32.5,347.95 33.0,347.82 33.5,347.80 34.0,347.80 34.5,347.80 35.0,347.80 35.5,347.80 36.0,347.80 36.5,347.80 37.0,347.80 37.5,347.80 38.0,347.80 38.5,347.80 39.0,347.80 39.5,347.80 40.0,347.80 40.5,347.80 41.0,347.80 41.5,347.80 42.0,347.80 42.5,347.80 43.0,347.80 43.5,347.80 44.0,347.80 44.5,347.80 45.0,347.80 45.5,347.80 46.0,347.80 46.5,347.80 47.0,347.80 47.5,347.80 48.0,347.80 48.5,347.80 49.0,347.80 49.5,347.80 50.0,347.80 50.5,347.80 51.0,347.80 51.5,347.80 52.0,347.80 52.5,347.80 53.0,347.80 53.5,347.80 54.0,347.80 54.5,347.80 55.0,347.80 55.5,347.80 56.0,347.80 56.5,347.81 57.0,347.88 57.5,348.16 58.0,348.65 58.5,348.99 59.0,349.09 59.5,349.10 60.0,349.10 60.5,349.10 61.0,349.10 61.5,349.08 62.0,348.95 62.5,348.55 63.0,348.07 63.5,347.84 64.0,347.80 64.5,347.80 65.0,347.80 65.5,347.80 66.0,347.80 66.5,347.80 67.0,347.80 67.5,347.80 68.0,347.80 68.5,347.80 69.0,347.80 69.5,347.80 70.0,347.80 70.5,347.80 71.0,347.80 71.5,347.80 72.0,347.80 72.5,347.80 73.0,347.80 73.5,347.80 74.0,347.80 74.5,347.80 75.0,347.80 75.5,347.80 76.0,347.80 76.5,347.80 77.0,347.80 77.5,347.80 78.0,347.80 78.5,347.80 79.0,347.80 79.5,347.80 80.0,347.80 80.5,347.80 81.0,347.80 81.5,347.80 82.0,347.80 82.5,347.80 83.0,347.80 83.5,347.80 84.0,347.80 84.5,347.80 85.0,347.83 85.5,348.01 86.0,348.45 86.5,348.87 87.0,348.91 87.5,348.55 88.0,348.07 88.5,347.84 89.0,347.80 89.5,347.80 90.0,347.80 90.5,347.80 91.0,347.80 91.5,347.80 92.0,347.80 92.5,347.80 93.0,347.80 93.5,347.80 94.0,347.80 94.5,347.80 95.0,347.80 95.5,347.80 96.0,347.80 96.5,347.80 97.0,347.80 97.5,347.80 98.0,347.80 98.5,347.80 99.0,347.80 99.5,347.80 100.0,347.80 100.5,347.80 101.0,347.80 101.5,347.80 102.0,347.80 102.5,347.80 103.0,347.80 103.5,347.80 104.0,347.80 104.5,347.80 105.0,347.80 105.5,347.80 106.0,347.80 106.5,347.80 107.0,347.80 107.5,347.80 108.0,347.80 108.5,347.80 109.0,347.80 109.5,347.80 110.0,347.80 110.5,347.80 111.0,347.80 111.5,347.80 112.0,347.80 112.5,347.80 113.0,347.80 113.5,347.80 114.0,347.80 114.5,347.80 115.0,347.80 115.5,347.80 116.0,347.80 116.5,347.80 117.0,347.80 117.5,347.80 118.0,347.83 118.5,348.01 119.0,348.45 119.5,348.89 120.0,349.07 120.5,349.10 121.0,349.09 121.5,349.02 122.0,348.74 122.5,348.25 123.0,347.91 123.5,347.81 124.0,347.80 124.5,347.80 125.0,347.80 125.5,347.80 126.0,347.80 126.5,347.80 127.0,347.80 127.5,347.80 128.0,347.80 128.5,347.83 129.0,348.01 129.5,348.45 130.0,348.89 130.5,349.07 131.0,349.10 131.5,349.10 132.0,349.10 132.5,349.10 133.0,349.07 133.5,348.89 134.0,348.45 134.5,348.01 135.0,347.83 135.5,347.80 136.0,347.80 136.5,347.80 137.0,347.80 137.5,347.80 138.0,347.80 138.5,347.80 139.0,347.83 139.5,348.01 140.0,348.45 140.5,348.89 141.0,349.07 141.5,349.10 142.0,349.10 142.5,349.10 143.0,349.10 143.5,349.10 144.0,349.06 144.5,348.83 145.0,348.37 145.5,348.03 146.0,347.99 146.5,348.06 147.0,348.09 147.5,348.10 148.0,348.10 148.5,348.10 149.0,348.10 149.5,348.09 150.0,348.09 150.5,348.09 151.0,348.09 151.5,348.09 152.0,348.09 152.5,348.09 153.0,348.09 153.5,348.09 154.0,348.09 154.5,348.09 155.0,348.08 155.5,348.08 156.0,348.08 156.5,348.08 157.0,348.08 157.5,348.08 158.0,348.08 158.5,348.08 159.0,348.08 159.5,348.08 160.0,348.07 160.5,348.07 161.0,348.07 161.5,348.07 162.0,348.07 162.5,348.07 163.0,348.07 163.5,348.07 164.0,348.07 164.5,348.07 165.0,348.07 165.5,348.06 166.0,348.06 166.5,348.06 167.0,348.06 167.5,348.06 168.0,348.06 168.5,348.06 169.0,348.06 169.5,348.06 170.0,348.06 170.5,348.06 171.0,348.05 171.5,348.05 172.0,348.05 172.5,348.05 173.0,348.05 173.5,348.05 174.0,348.05 174.5,348.05 175.0,348.05 175.5,348.05 176.0,348.04 176.5,348.04 177.0,348.04 177.5,348.04 178.0,348.04 178.5,348.04 179.0,348.04 179.5,348.04 180.0,348.04 180.5,348.04 181.0,348.04 181.5,348.03 182.0,348.03 182.5,348.03 183.0,348.03 183.5,348.03 184.0,348.03 184.5,348.03 185.0,348.03 185.5,348.03 186.0,348.03 186.5,348.03 187.0,348.02 187.5,348.02 188.0,348.02 188.5,348.02 189.0,348.02 189.5,348.02 190.0,348.02 190.5,348.02 191.0,348.02 191.5,348.02 192.0,348.01 192.5,348.01 193.0,348.01 193.5,348.01 194.0,348.01 194.5,348.01 195.0,348.01 195.5,348.01 196.0,348.01 196.5,348.01 197.0,348.01 197.5,348.00 198.0,348.00 198.5,348.00 199.0,348.00 199.5,348.00 200.0,347.99 200.5,347.97 201.0,347.94 201.5,347.91 202.0,347.89 202.5,347.86 203.0,347.83 203.5,347.84 204.0,348.02 204.5,348.45 205.0,348.88 205.5,349.05 206.0,348.94 206.5,348.55 207.0,348.07 207.5,347.84 208.0,347.80 208.5,347.80 209.0,347.80 209.5,347.80 210.0,347.80 210.5,347.80 211.0,347.80 211.5,347.80 212.0,347.80 212.5,347.80 213.0,347.80 213.5,347.80 214.0,347.83 214.5,348.01 215.0,348.45 215.5,348.88 216.0,348.96 216.5,348.65 217.0,348.16 217.5,347.88 218.0,347.81 218.5,347.80 219.0,347.80 219.5,347.80 220.0,347.80 220.5,347.80 221.0,347.81 221.5,347.88 222.0,348.16 222.5,348.65 223.0,348.99 223.5,349.09 224.0,349.10 224.5,349.10 225.0,349.10 225.5,349.10 226.0,349.10 226.5,349.10 227.0,349.07 227.5,348.89 228.0,348.45 228.5,348.01 229.0,347.83 229.5,347.80 230.0,347.80 230.5,347.80 231.0,347.80 231.5,347.81 232.0,347.88 232.5,348.16 233.0,348.65 233.5,348.99 234.0,349.09 234.5,349.10 235.0,349.07 235.5,348.89 236.0,348.45 236.5,348.01 237.0,347.83 237.5,347.80 238.0,347.80 238.5,347.80 239.0,347.80 239.5,347.80 240.0,347.80 240.5,347.80 241.0,347.80 241.5,347.80 242.0,347.80 242.5,347.80 243.0,347.80 243.5,347.80 244.0,347.79 244.5,347.79 245.0,347.79 245.5,347.79 246.0,347.79 246.5,347.78 247.0,347.78 247.5,347.77 248.0,347.77 248.5,347.76 249.0,347.75 249.5,347.73 250.0,347.72 250.5,347.70 251.0,347.66 251.5,347.60 252.0,347.52 252.5,347.43 253.0,347.33 253.5,347.23 254.0,347.11 254.5,346.98 255.0,346.84 255.5,346.69 256.0,346.54 256.5,346.40 257.0,346.25 257.5,346.09 258.0,345.89 258.5,345.66 259.0,345.40 259.5,345.09 260.0,344.74 260.5,344.34 261.0,343.88 261.5,343.36 262.0,342.76 262.5,342.07 263.0,341.29 263.5,340.41 264.0,339.43 264.5,338.33 265.0,337.10 265.5,335.72 266.0,334.19 266.5,332.47 267.0,330.56 267.5,328.44 268.0,326.08 268.5,323.47 269.0,320.58 269.5,317.41 270.0,313.93 270.5,310.14 271.0,306.04 271.5,301.62 272.0,296.90 272.5,291.89 273.0,286.62 273.5,281.13 274.0,275.46 274.5,269.65 275.0,263.78 275.5,257.91 276.0,252.11 276.5,246.45 277.0,241.01 277.5,235.86 278.0,231.08 278.5,226.71 279.0,222.82 279.5,219.45 280.0,216.63 280.5,214.38 281.0,212.71 281.5,211.60 282.0,211.01 282.5,210.90 283.0,211.32 283.5,212.39 284.0,214.14 284.5,216.55 285.0,219.61 285.5,223.28 286.0,227.51 286.5,232.23 287.0,237.39 287.5,242.89 288.0,248.67 288.5,254.63 289.0,260.69 289.5,266.78 290.0,272.82 290.5,278.74 291.0,284.50 291.5,290.04 292.0,295.32 292.5,300.31 293.0,305.00 293.5,309.38 294.0,313.43 294.5,317.17 295.0,320.59 295.5,323.71 296.0,326.55 296.5,329.11 297.0,331.41 297.5,333.47 298.0,335.31 298.5,336.95 299.0,338.39 299.5,339.66 300.0,340.77 300.5,341.73 301.0,342.55 301.5,343.27 302.0,343.88 302.5,344.40 303.0,344.84 303.5,345.21 304.0,345.51 304.5,345.77 305.0,345.98 305.5,346.15 306.0,346.29 306.5,346.40 307.0,346.49 307.5,346.56 308.0,346.63 308.5,346.69 309.0,346.73 309.5,346.77 310.0,346.80 310.5,346.82 311.0,346.84 311.5,346.85 312.0,346.86 312.5,346.87 313.0,346.88 313.5,346.89 314.0,346.92 314.5,347.07 315.0,347.41 315.5,347.80 316.0,348.03 316.5,348.09 317.0,348.10 317.5,348.10 318.0,348.10 318.5,348.10 319.0,348.10 319.5,348.10 320.0,348.10 320.5,348.10 321.0,348.10 321.5,348.10 322.0,348.10 322.5,348.10 323.0,348.10 323.5,348.10 324.0,348.10 324.5,348.10 325.0,348.10 325.5,348.10 326.0,348.10 326.5,348.10 327.0,348.10 327.5,348.10 328.0,348.10 328.5,348.10 329.0,348.10 329.5,348.10 330.0,348.10 330.5,348.10 331.0,348.10 331.5,348.10 332.0,348.10 332.5,348.10 333.0,348.10 333.5,348.10 334.0,348.10 334.5,348.10 335.0,348.10 335.5,348.10 336.0,348.10 336.5,348.10 337.0,348.10 337.5,348.10 338.0,348.10 338.5,348.10 339.0,348.10 339.5,348.10 340.0,348.10 340.5,348.10 341.0,348.10 341.5,348.10 342.0,348.10 342.5,348.10 343.0,348.10 343.5,348.10 344.0,348.10 344.5,348.10 345.0,348.10 345.5,348.10 346.0,348.10 346.5,348.10 347.0,348.10 347.5,348.10 348.0,348.10 348.5,348.09 349.0,348.00 349.5,347.74 350.0,347.34 350.5,347.04 351.0,346.92 351.5,346.90 352.0,346.94 352.5,347.15 353.0,347.59 353.5,347.96 354.0,348.08 354.5,348.10 355.0,348.10 355.5,348.10 356.0,348.10 356.5,348.10 357.0,348.10 357.5,348.10 358.0,348.10 358.5,348.10 359.0,348.10 359.5,348.10 360.0,348.07 360.5,347.93 361.0,347.58 361.5,347.20 362.0,346.97 362.5,346.91 363.0,346.97 363.5,347.24 364.0,347.68 364.5,348.00 365.0,348.09 365.5,348.10 366.0,348.10 366.5,348.10 367.0,348.10 367.5,348.10 368.0,348.10 368.5,348.10 369.0,348.10 369.5,348.10 370.0,348.10 370.5,348.10 371.0,348.10 371.5,348.10 372.0,348.10 372.5,348.10 373.0,348.10 373.5,348.10 374.0,348.10 374.5,348.10 375.0,348.10 375.5,348.10 376.0,348.10 376.5,348.10 377.0,348.10 377.5,348.10 378.0,348.10 378.5,348.10 379.0,348.10 379.5,348.10 380.0,348.10 380.5,348.10 381.0,348.10 381.5,348.10 382.0,348.10 382.5,348.10 383.0,348.10 383.5,348.10 384.0,348.10 384.5,348.10 385.0,348.12 385.5,348.23 386.0,348.49 386.5,348.78 387.0,348.95 387.5,349.00 388.0,349.00 388.5,349.00 389.0,349.00 389.5,349.00 390.0,349.00 390.5,349.00 391.0,349.00 391.5,349.00 392.0,349.00 392.5,349.00 393.0,349.00 393.5,349.00 394.0,349.00 394.5,349.00 395.0,349.00 395.5,349.00 396.0,349.00 396.5,349.00 397.0,349.00 397.5,349.00 398.0,349.00 398.5,348.99 399.0,348.93 399.5,348.73 400.0,348.43 400.5,348.20 401.0,348.11 401.5,348.10 402.0,348.10 402.5,348.10 403.0,348.10 403.5,348.10 404.0,348.10 404.5,348.10 405.0,348.10 405.5,348.10 406.0,348.10 406.5,348.10 407.0,348.10 407.5,348.10 408.0,348.10 408.5,348.10 409.0,348.10 409.5,348.10 410.0,348.10 410.5,348.10 411.0,348.10 411.5,348.10 412.0,348.10 412.5,348.10 413.0,348.10 413.5,348.10 414.0,348.10 414.5,348.10 415.0,348.10 415.5,348.10 416.0,348.10 416.5,348.13 417.0,348.28 417.5,348.54 418.0,348.58 418.5,348.34 419.0,348.15 419.5,348.10 420.0,348.10 420.5,348.10 421.0,348.10 421.5,348.10 422.0,348.10 422.5,348.10 423.0,348.10 423.5,348.10 424.0,348.10 424.5,348.10 425.0,348.10 425.5,348.10 426.0,348.10 426.5,348.10 427.0,348.10 427.5,348.10 428.0,348.10 428.5,348.10 429.0,348.10 429.5,348.10 430.0,348.10 430.5,348.10 431.0,348.10 431.5,348.10 432.0,348.10 432.5,348.10 433.0,348.10 433.5,348.10 434.0,348.10 434.5,348.10 435.0,348.10 435.5,348.10 436.0,348.10 436.5,348.10 437.0,348.10 437.5,348.10 438.0,348.10 438.5,348.10 439.0,348.10 439.5,348.10 440.0,348.10 440.5,348.10 441.0,348.14 441.5,348.24 442.0,348.40 442.5,348.59 443.0,348.77 443.5,348.91 444.0,348.98 444.5,349.00 445.0,349.00"/><path d="M17.0,551.27 17.5,551.75 18.0,552.15 18.5,552.28 19.0,552.30 19.5,552.30 20.0,552.30 20.5,552.27 21.0,552.09 21.5,551.65 22.0,551.21 22.5,551.03 23.0,551.00 23.5,551.00 24.0,551.00 24.5,551.00 25.0,551.00 25.5,551.00 26.0,551.00 26.5,551.00 27.0,551.00 27.5,551.00 28.0,551.00 28.5,551.00 29.0,551.04 29.5,551.27 30.0,551.75 30.5,552.14 31.0,552.24 31.5,552.03 32.0,551.55 32.5,551.15 33.0,551.02 33.5,551.00 34.0,551.00 34.5,551.00 35.0,551.00 35.5,551.00 36.0,551.00 36.5,551.00 37.0,551.00 37.5,551.00 38.0,551.00 38.5,551.00 39.0,551.00 39.5,551.00 40.0,551.00 40.5,551.00 41.0,551.00 41.5,551.00 42.0,551.00 42.5,551.00 43.0,551.00 43.5,551.00 44.0,551.00 44.5,551.00 45.0,551.00 45.5,551.00 46.0,551.00 46.5,551.00 47.0,551.00 47.5,551.00 48.0,551.00 48.5,551.00 49.0,551.00 49.5,551.00 50.0,551.00 50.5,551.00 51.0,551.00 51.5,551.00 52.0,551.00 52.5,551.00 53.0,551.00 53.5,551.00 54.0,551.00 54.5,551.00 55.0,551.00 55.5,551.00 56.0,551.00 56.5,551.01 57.0,551.08 57.5,551.36 58.0,551.85 58.5,552.19 59.0,552.29 59.5,552.30 60.0,552.30 60.5,552.30 61.0,552.30 61.5,552.28 62.0,552.15 62.5,551.75 63.0,551.27 63.5,551.04 64.0,551.00 64.5,551.00 65.0,551.00 65.5,551.00 66.0,551.00 66.5,551.00 67.0,551.00 67.5,551.00 68.0,551.00 68.5,551.00 69.0,551.00 69.5,551.00 70.0,551.00 70.5,551.00 71.0,551.00 71.5,551.00 72.0,551.00 72.5,551.00 73.0,551.00 73.5,551.00 74.0,551.00 74.5,551.00 75.0,551.00 75.5,551.00 76.0,551.00 76.5,551.00 77.0,551.00 77.5,551.00 78.0,551.00 78.5,551.00 79.0,551.00 79.5,551.00 80.0,551.00 80.5,551.00 81.0,551.00 81.5,551.00 82.0,551.00 82.5,551.00 83.0,551.00 83.5,551.00 84.0,551.00 84.5,551.00 85.0,551.03 85.5,551.21 86.0,551.65 86.5,552.07 87.0,552.11 87.5,551.75 88.0,551.27 88.5,551.04 89.0,551.00 89.5,551.00 90.0,551.00 90.5,551.00 91.0,551.00 91.5,551.00 92.0,551.00 92.5,551.00 93.0,551.00 93.5,551.00 94.0,551.00 94.5,551.00 95.0,551.00 95.5,551.00 96.0,551.00 96.5,551.00 97.0,551.00 97.5,551.00 98.0,551.00 98.5,551.00 99.0,551.00 99.5,551.00 100.0,551.00 100.5,551.00 101.0,551.00 101.5,551.00 102.0,551.00 102.5,551.00 103.0,551.00 103.5,551.00 104.0,551.00 104.5,551.00 105.0,551.00 105.5,551.00 106.0,551.00 106.5,551.00 107.0,551.00 107.5,551.00 108.0,551.00 108.5,551.00 109.0,551.00 109.5,551.00 110.0,551.00 110.5,551.00 111.0,551.00 111.5,551.00 112.0,551.00 112.5,551.00 113.0,551.00 113.5,551.00 114.0,551.00 114.5,551.00 115.0,551.00 115.5,551.00 116.0,551.00 116.5,551.00 117.0,551.00 117.5,551.00 118.0,551.03 118.5,551.21 119.0,551.65 119.5,552.09 120.0,552.27 120.5,552.30 121.0,552.29 121.5,552.22 122.0,551.94 122.5,551.45 123.0,551.11 123.5,551.01 124.0,551.00 124.5,551.00 125.0,551.00 125.5,551.00 126.0,551.00 126.5,551.00 127.0,551.00 127.5,551.00 128.0,551.00 128.5,551.03 129.0,551.21 129.5,551.65 130.0,552.09 130.5,552.27 131.0,552.30 131.5,552.30 132.0,552.30 132.5,552.30 133.0,552.27 133.5,552.09 134.0,551.65 134.5,551.21 135.0,551.03 135.5,551.00 136.0,551.00 136.5,551.00 137.0,551.00 137.5,551.00 138.0,551.00 138.5,551.00 139.0,551.03 139.5,551.21 140.0,551.65 140.5,552.09 141.0,552.27 141.5,552.30 142.0,552.30 142.5,552.30 143.0,552.30 143.5,552.30 144.0,552.26 144.5,552.03 145.0,551.57 145.5,551.23 146.0,551.19 146.5,551.26 147.0,551.29 147.5,551.30 148.0,551.30 148.5,551.30 149.0,551.30 149.5,551.29 150.0,551.29 150.5,551.29 151.0,551.29 151.5,551.29 152.0,551.29 152.5,551.29 153.0,551.29 153.5,551.29 154.0,551.29 154.5,551.29 155.0,551.28 155.5,551.28 156.0,551.28 156.5,551.28 157.0,551.28 157.5,551.28 158.0,551.28 158.5,551.28 159.0,551.28 159.5,551.28 160.0,551.27 160.5,551.27 161.0,551.27 161.5,551.27 162.0,551.27 162.5,551.27 163.0,551.27 163.5,551.27 164.0,551.27 164.5,551.27 165.0,551.27 165.5,551.26 166.0,551.26 166.5,551.26 167.0,551.26 167.5,551.26 168.0,551.26 168.5,551.26 169.0,551.26 169.5,551.26 170.0,551.26 170.5,551.26 171.0,551.25 171.5,551.25 172.0,551.25 172.5,551.25 173.0,551.25 173.5,551.25 174.0,551.25 174.5,551.25 175.0,551.25 175.5,551.25 176.0,551.24 176.5,551.24 177.0,551.24 177.5,551.24 178.0,551.24 178.5,551.24 179.0,551.24 179.5,551.24 180.0,551.24 180.5,551.24 181.0,551.24 181.5,551.23 182.0,551.23 182.5,551.23 183.0,551.23 183.5,551.23 184.0,551.23 184.5,551.23 185.0,551.23 185.5,551.23 186.0,551.23 186.5,551.23 187.0,551.22 187.5,551.22 188.0,551.22 188.5,551.22 189.0,551.22 189.5,551.22 190.0,551.22 190.5,551.22 191.0,551.22 191.5,551.22 192.0,551.21 192.5,551.21 193.0,551.21 193.5,551.21 194.0,551.21 194.5,551.21 195.0,551.21 195.5,551.21 196.0,551.21 196.5,551.21 197.0,551.21 197.5,551.20 198.0,551.20 198.5,551.20 199.0,551.20 199.5,551.20 200.0,551.19 200.5,551.17 201.0,551.14 201.5,551.11 202.0,551.09 202.5,551.06 203.0,551.03 203.5,551.04 204.0,551.22 204.5,551.65 205.0,552.08 205.5,552.25 206.0,552.14 206.5,551.75 207.0,551.27 207.5,551.04 208.0,551.00 208.5,551.00 209.0,551.00 209.5,551.00 210.0,551.00 210.5,551.00 211.0,551.00 211.5,551.00 212.0,551.00 212.5,551.00 213.0,551.00 213.5,551.00 214.0,551.03 214.5,551.21 215.0,551.65 215.5,552.08 216.0,552.16 216.5,551.85 217.0,551.36 217.5,551.08 218.0,551.01 218.5,551.00 219.0,551.00 219.5,551.00 220.0,551.00 220.5,551.00 221.0,551.01 221.5,551.08 222.0,551.36 222.5,551.85 223.0,552.19 223.5,552.29 224.0,552.30 224.5,552.30 225.0,552.30 225.5,552.30 226.0,552.30 226.5,552.30 227.0,552.27 227.5,552.09 228.0,551.65 228.5,551.21 229.0,551.03 229.5,551.00 230.0,551.00 230.5,551.00 231.0,551.00 231.5,551.01 232.0,551.08 232.5,551.36 233.0,551.85 233.5,552.19 234.0,552.29 234.5,552.30 235.0,552.27 235.5,552.08 236.0,551.65 236.5,551.21 237.0,551.03 237.5,551.00 238.0,550.99 238.5,550.99 239.0,550.99 239.5,550.99 240.0,550.99 240.5,550.98 241.0,550.98 241.5,550.98 242.0,550.97 242.5,550.97 243.0,550.96 243.5,550.96 244.0,550.95 244.5,550.94 245.0,550.93 245.5,550.91 246.0,550.90 246.5,550.88 247.0,550.86 247.5,550.84 248.0,550.81 248.5,550.78 249.0,550.74 249.5,550.70 250.0,550.65 250.5,550.60 251.0,550.52 251.5,550.42 252.0,550.30 252.5,550.16 253.0,550.01 253.5,549.85 254.0,549.68 254.5,549.50 255.0,549.30 255.5,549.08 256.0,548.87 256.5,548.66 257.0,548.46 257.5,548.23 258.0,547.98 258.5,547.70 259.0,547.39 259.5,547.05 260.0,546.66 260.5,546.24 261.0,545.77 261.5,545.25 262.0,544.67 262.5,544.00 263.0,543.25 263.5,542.42 264.0,541.48 264.5,540.43 265.0,539.25 265.5,537.92 266.0,536.41 266.5,534.72 267.0,532.80 267.5,530.64 268.0,528.21 268.5,525.48 269.0,522.44 269.5,519.05 270.0,515.30 270.5,511.18 271.0,506.67 271.5,501.78 272.0,496.51 272.5,490.89 273.0,484.94 273.5,478.69 274.0,472.20 274.5,465.51 275.0,458.71 275.5,451.86 276.0,445.03 276.5,438.32 277.0,431.81 277.5,425.58 278.0,419.71 278.5,414.29 279.0,409.37 279.5,405.01 280.0,401.26 280.5,398.15 281.0,395.69 281.5,393.88 282.0,392.70 282.5,392.10 283.0,391.99 283.5,392.49 284.0,393.75 284.5,395.81 285.0,398.67 285.5,402.29 286.0,406.65 286.5,411.66 287.0,417.27 287.5,423.38 288.0,429.89 288.5,436.72 289.0,443.76 289.5,450.90 290.0,458.05 290.5,465.13 291.0,472.05 291.5,478.76 292.0,485.19 292.5,491.30 293.0,497.06 293.5,502.46 294.0,507.48 294.5,512.12 295.0,516.39 295.5,520.29 296.0,523.84 296.5,527.06 297.0,529.96 297.5,532.57 298.0,534.90 298.5,536.98 299.0,538.83 299.5,540.46 300.0,541.89 300.5,543.14 301.0,544.22 301.5,545.15 302.0,545.96 302.5,546.65 303.0,547.24 303.5,547.74 304.0,548.15 304.5,548.50 305.0,548.79 305.5,549.03 306.0,549.23 306.5,549.39 307.0,549.52 307.5,549.62 308.0,549.72 308.5,549.80 309.0,549.86 309.5,549.91 310.0,549.95 310.5,549.99 311.0,550.01 311.5,550.03 312.0,550.05 312.5,550.06 313.0,550.07 313.5,550.08 314.0,550.11 314.5,550.26 315.0,550.61 315.5,551.00 316.0,551.23 316.5,551.29 317.0,551.30 317.5,551.30 318.0,551.30 318.5,551.30 319.0,551.30 319.5,551.30 320.0,551.30 320.5,551.30 321.0,551.30 321.5,551.30 322.0,551.30 322.5,551.30 323.0,551.30 323.5,551.30 324.0,551.30 324.5,551.30 325.0,551.30 325.5,551.30 326.0,551.30 326.5,551.30 327.0,551.30 327.5,551.30 328.0,551.30 328.5,551.30 329.0,551.30 329.5,551.30 330.0,551.30 330.5,551.30 331.0,551.30 331.5,551.30 332.0,551.30 332.5,551.30 333.0,551.30 333.5,551.30 334.0,551.30 334.5,551.30 335.0,551.30 335.5,551.30 336.0,551.30 336.5,551.30 337.0,551.30 337.5,551.30 338.0,551.30 338.5,551.30 339.0,551.30 339.5,551.30 340.0,551.30 340.5,551.30 341.0,551.30 341.5,551.30 342.0,551.30 342.5,551.30 343.0,551.30 343.5,551.30 344.0,551.30 344.5,551.30 345.0,551.30 345.5,551.30 346.0,551.30 346.5,551.30 347.0,551.30 347.5,551.30 348.0,551.30 348.5,551.29 349.0,551.20 349.5,550.94 350.0,550.54 350.5,550.24 351.0,550.12 351.5,550.10 352.0,550.14 352.5,550.35 353.0,550.79 353.5,551.16 354.0,551.28 354.5,551.30 355.0,551.30 355.5,551.30 356.0,551.30 356.5,551.30 357.0,551.30 357.5,551.30 358.0,551.30 358.5,551.30 359.0,551.30 359.5,551.30 360.0,551.27 360.5,551.13 361.0,550.78 361.5,550.40 362.0,550.17 362.5,550.11 363.0,550.17 363.5,550.44 364.0,550.88 364.5,551.20 365.0,551.29 365.5,551.30 366.0,551.30 366.5,551.30 367.0,551.30 367.5,551.30 368.0,551.30 368.5,551.30 369.0,551.30 369.5,551.30 370.0,551.30 370.5,551.30 371.0,551.30 371.5,551.30 372.0,551.30 372.5,551.30 373.0,551.30 373.5,551.30 374.0,551.30 374.5,551.30 375.0,551.30 375.5,551.30 376.0,551.30 376.5,551.30 377.0,551.30 377.5,551.30 378.0,551.30 378.5,551.30 379.0,551.30 379.5,551.30 380.0,551.30 380.5,551.30 381.0,551.30 381.5,551.30 382.0,551.30 382.5,551.30 383.0,551.30 383.5,551.30 384.0,551.30 384.5,551.30 385.0,551.32 385.5,551.43 386.0,551.69 386.5,551.98 387.0,552.15 387.5,552.20 388.0,552.20 388.5,552.20 389.0,552.20 389.5,552.20 390.0,552.20 390.5,552.20 391.0,552.20 391.5,552.20 392.0,552.20 392.5,552.20 393.0,552.20 393.5,552.20 394.0,552.20 394.5,552.20 395.0,552.20 395.5,552.20 396.0,552.20 396.5,552.20 397.0,552.20 397.5,552.20 398.0,552.20 398.5,552.19 399.0,552.13 399.5,551.93 400.0,551.63 400.5,551.40 401.0,551.31 401.5,551.30 402.0,551.30 402.5,551.30 403.0,551.30 403.5,551.30 404.0,551.30 404.5,551.30 405.0,551.30 405.5,551.30 406.0,551.30 406.5,551.30 407.0,551.30 407.5,551.30 408.0,551.30 408.5,551.30 409.0,551.30 409.5,551.30 410.0,551.30 410.5,551.30 411.0,551.30 411.5,551.30 412.0,551.30 412.5,551.30 413.0,551.30 413.5,551.30 414.0,551.30 414.5,551.30 415.0,551.30 415.5,551.30 416.0,551.30 416.5,551.33 417.0,551.48 417.5,551.74 418.0,551.78 418.5,551.54 419.0,551.35 419.5,551.30 420.0,551.30 420.5,551.30 421.0,551.30 421.5,551.30 422.0,551.30 422.5,551.30 423.0,551.30 423.5,551.30 424.0,551.30 424.5,551.30 425.0,551.30 425.5,551.30 426.0,551.30 426.5,551.30 427.0,551.30 427.5,551.30 428.0,551.30 428.5,551.30 429.0,551.30 429.5,551.30 430.0,551.30 430.5,551.30 431.0,551.30 431.5,551.30 432.0,551.30 432.5,551.30 433.0,551.30 433.5,551.30 434.0,551.30 434.5,551.30 435.0,551.30 435.5,551.30 436.0,551.30 436.5,551.30 437.0,551.30 437.5,551.30 438.0,551.30 438.5,551.30 439.0,551.30 439.5,551.30 440.0,551.30 440.5,551.30 441.0,551.34 441.5,551.44 442.0,551.60 442.5,551.79 443.0,551.97 443.5,552.11 444.0,552.18 444.5,552.20 445.0,552.20"/><path d="M483.0,162.40 483.5,162.40 484.0,162.40 484.5,162.40 485.0,162.40 485.5,162.40 486.0,162.40 486.5,162.40 487.0,162.40 487.5,162.40 488.0,162.40 488.5,162.40 489.0,162.40 489.5,162.40 490.0,162.40 490.5,162.40 491.0,162.40 491.5,162.40 492.0,162.40 492.5,162.40 493.0,162.39 493.5,162.37 494.0,162.31 494.5,162.18 495.0,161.99 495.5,161.76 496.0,161.52 496.5,161.28 497.0,161.05 497.5,160.87 498.0,160.78 498.5,160.83 499.0,160.99 499.5,161.22 500.0,161.47 500.5,161.73 501.0,161.98 501.5,162.22 502.0,162.43 502.5,162.54 503.0,162.54 503.5,162.43 504.0,162.27 504.5,162.08 505.0,161.89 505.5,161.71 506.0,161.52 506.5,161.35 507.0,161.21 507.5,161.11 508.0,161.04 508.5,160.99 509.0,160.95 509.5,160.92 510.0,160.88 510.5,160.84 511.0,160.80 511.5,160.78 512.0,160.80 512.5,160.88 513.0,161.04 513.5,161.23 514.0,161.44 514.5,161.66 515.0,161.87 515.5,162.04 516.0,162.14 516.5,162.13 517.0,162.00 517.5,161.81 518.0,161.59 518.5,161.37 519.0,161.16 519.5,160.97 520.0,160.82 520.5,160.74 521.0,160.71 521.5,160.70 522.0,160.70 522.5,160.70 523.0,160.70 523.5,160.70 524.0,160.70 524.5,160.70 525.0,160.70 525.5,160.70 526.0,160.70 526.5,160.70 527.0,160.70 527.5,160.70 528.0,160.71 528.5,160.73 529.0,160.78 529.5,160.89 530.0,161.04 530.5,161.21 531.0,161.39 531.5,161.57 532.0,161.75 532.5,161.93 533.0,162.11 533.5,162.29 534.0,162.45 534.5,162.57 535.0,162.61 535.5,162.55 536.0,162.43 536.5,162.28 537.0,162.12 537.5,161.96 538.0,161.80 538.5,161.64 539.0,161.48 539.5,161.31 540.0,161.16 540.5,161.01 541.0,160.91 541.5,160.87 542.0,160.92 542.5,161.03 543.0,161.17 543.5,161.32 544.0,161.46 544.5,161.61 545.0,161.76 545.5,161.90 546.0,162.04 546.5,162.18 547.0,162.29 547.5,162.35 548.0,162.39 548.5,162.40 549.0,162.40 549.5,162.40 550.0,162.40 550.5,162.40 551.0,162.40 551.5,162.39 552.0,162.37 552.5,162.31 553.0,162.22 553.5,162.10 554.0,161.97 554.5,161.84 555.0,161.71 555.5,161.58 556.0,161.44 556.5,161.31 557.0,161.18 557.5,161.05 558.0,160.92 558.5,160.82 559.0,160.75 559.5,160.72 560.0,160.70 560.5,160.70 561.0,160.70 561.5,160.70 562.0,160.70 562.5,160.70 563.0,160.71 563.5,160.73 564.0,160.79 564.5,160.90 565.0,161.04 565.5,161.20 566.0,161.37 566.5,161.53 567.0,161.70 567.5,161.87 568.0,162.03 568.5,162.17 569.0,162.29 569.5,162.36 570.0,162.39 570.5,162.40 571.0,162.40 571.5,162.40 572.0,162.40 572.5,162.40 573.0,162.40 573.5,162.40 574.0,162.40 574.5,162.40 575.0,162.40 575.5,162.40 576.0,162.40 576.5,162.40 577.0,162.40 577.5,162.40 578.0,162.40 578.5,162.40 579.0,162.40 579.5,162.40 580.0,162.40 580.5,162.40 581.0,162.40 581.5,162.40 582.0,162.40 582.5,162.40 583.0,162.40 583.5,162.40 584.0,162.40 584.5,162.40 585.0,162.40 585.5,162.40 586.0,162.39 586.5,162.37 587.0,162.32 587.5,162.20 588.0,162.03 588.5,161.83 589.0,161.62 589.5,161.40 590.0,161.19 590.5,161.00 591.0,160.87 591.5,160.81 592.0,160.81 592.5,160.85 593.0,160.90 593.5,160.95 594.0,161.00 594.5,161.07 595.0,161.16 595.5,161.29 596.0,161.44 596.5,161.60 597.0,161.77 597.5,161.93 598.0,162.08 598.5,162.20 599.0,162.26 599.5,162.25 600.0,162.19 600.5,162.11 601.0,162.02 601.5,161.93 602.0,161.84 602.5,161.75 603.0,161.68 603.5,161.62 604.0,161.62 604.5,161.67 605.0,161.75 605.5,161.86 606.0,161.97 606.5,162.08 607.0,162.19 607.5,162.31 608.0,162.42 608.5,162.52 609.0,162.61 609.5,162.64 610.0,162.60 610.5,162.48 611.0,162.32 611.5,162.15 612.0,161.97 612.5,161.79 613.0,161.61 613.5,161.42 614.0,161.24 614.5,161.07 615.0,160.92 615.5,160.80 616.0,160.73 616.5,160.71 617.0,160.70 617.5,160.70 618.0,160.70 618.5,160.70 619.0,160.70 619.5,160.70 620.0,160.70 620.5,160.70 621.0,160.70 621.5,160.70 622.0,160.70 622.5,160.70 623.0,160.70 623.5,160.70 624.0,160.70 624.5,160.70 625.0,160.70 625.5,160.70 626.0,160.71 626.5,160.72 627.0,160.77 627.5,160.85 628.0,160.97 628.5,161.11 629.0,161.26 629.5,161.40 630.0,161.55 630.5,161.70 631.0,161.84 631.5,161.99 632.0,162.13 632.5,162.25 633.0,162.33 633.5,162.38 634.0,162.39 634.5,162.40 635.0,162.40 635.5,162.40 636.0,162.40 636.5,162.40 637.0,162.40 637.5,162.40 638.0,162.40 638.5,162.40 639.0,162.39 639.5,162.37 640.0,162.30 640.5,162.18 641.0,162.03 641.5,161.85 642.0,161.67 642.5,161.49 643.0,161.30 643.5,161.12 644.0,160.95 644.5,160.80 645.0,160.70 645.5,160.70 646.0,160.79 646.5,160.93 647.0,161.08 647.5,161.25 648.0,161.41 648.5,161.57 649.0,161.73 649.5,161.89 650.0,162.05 650.5,162.22 651.0,162.38 651.5,162.52 652.0,162.65 652.5,162.72 653.0,162.74 653.5,162.74 654.0,162.72 654.5,162.70 655.0,162.67 655.5,162.65 656.0,162.62 656.5,162.60 657.0,162.58 657.5,162.55 658.0,162.53 658.5,162.50 659.0,162.48 659.5,162.45 660.0,162.42 660.5,162.36 661.0,162.27 661.5,162.15 662.0,162.02 662.5,161.87 663.0,161.73 663.5,161.58 664.0,161.43 664.5,161.29 665.0,161.14 665.5,161.01 666.0,160.90 666.5,160.86 667.0,160.90 667.5,161.01 668.0,161.15 668.5,161.29 669.0,161.44 669.5,161.59 670.0,161.74 670.5,161.88 671.0,162.03 671.5,162.18 672.0,162.33 672.5,162.47 673.0,162.59 673.5,162.68 674.0,162.71 674.5,162.69 675.0,162.65 675.5,162.60 676.0,162.55 676.5,162.49 677.0,162.42 677.5,162.31 678.0,162.15 678.5,161.96 679.0,161.74 679.5,161.53 680.0,161.31 680.5,161.11 681.0,160.93 681.5,160.81 682.0,160.75 682.5,160.73 683.0,160.74 683.5,160.75 684.0,160.76 684.5,160.77 685.0,160.79 685.5,160.80 686.0,160.81 686.5,160.82 687.0,160.83 687.5,160.85 688.0,160.86 688.5,160.87 689.0,160.88 689.5,160.89 690.0,160.90 690.5,160.92 691.0,160.93 691.5,160.94 692.0,160.95 692.5,160.96 693.0,160.98 693.5,160.99 694.0,161.00 694.5,161.01 695.0,161.02 695.5,161.03 696.0,161.05 696.5,161.06 697.0,161.07 697.5,161.10 698.0,161.17 698.5,161.29 699.0,161.46 699.5,161.66 700.0,161.88 700.5,162.09 701.0,162.29 701.5,162.46 702.0,162.53 702.5,162.49 703.0,162.35 703.5,162.14 704.0,161.92 704.5,161.70 705.0,161.48 705.5,161.29 706.0,161.16 706.5,161.09 707.0,161.07 707.5,161.07 708.0,161.07 708.5,161.07 709.0,161.07 709.5,161.07 710.0,161.06 710.5,161.05 711.0,161.04 711.5,161.02 712.0,160.99 712.5,160.96 713.0,160.91 713.5,160.85 714.0,160.79 714.5,160.72 715.0,160.64 715.5,160.56 716.0,160.46 716.5,160.35 717.0,160.23 717.5,160.09 718.0,159.94 718.5,159.78 719.0,159.59 719.5,159.39 720.0,159.16 720.5,158.91 721.0,158.63 721.5,158.33 722.0,157.99 722.5,157.62 723.0,157.21 723.5,156.76 724.0,156.26 724.5,155.71 725.0,155.11 725.5,154.44 726.0,153.71 726.5,152.90 727.0,152.00 727.5,151.00 728.0,149.90 728.5,148.69 729.0,147.34 729.5,145.84 730.0,144.19 730.5,142.37 731.0,140.35 731.5,138.13 732.0,135.68 732.5,132.99 733.0,130.06 733.5,126.85 734.0,123.38 734.5,119.62 735.0,115.57 735.5,111.25 736.0,106.65 736.5,101.79 737.0,96.69 737.5,91.38 738.0,85.89 738.5,80.27 739.0,74.57 739.5,68.83 740.0,63.13 740.5,57.53 741.0,52.11 741.5,46.93 742.0,42.08 742.5,37.62 743.0,33.64 743.5,30.19 744.0,27.34 744.5,25.16 745.0,23.70 745.5,23.03 746.0,23.36 746.5,24.54 747.0,26.43 747.5,28.99 748.0,32.17 748.5,35.90 749.0,40.12 749.5,44.78 750.0,49.81 750.5,55.14 751.0,60.70 751.5,66.41 752.0,72.22 752.5,78.06 753.0,83.88 753.5,89.60 754.0,95.20 754.5,100.61 755.0,105.81 755.5,110.77 756.0,115.47 756.5,119.88 757.0,123.99 757.5,127.81 758.0,131.33 758.5,134.55 759.0,137.49 759.5,140.15 760.0,142.54 760.5,144.70 761.0,146.62 761.5,148.33 762.0,149.84 762.5,151.18 763.0,152.35 763.5,153.39 764.0,154.29 764.5,155.09 765.0,155.78 765.5,156.39 766.0,156.92 766.5,157.38 767.0,157.78 767.5,158.14 768.0,158.45 768.5,158.72 769.0,158.97 769.5,159.18 770.0,159.37 770.5,159.54 771.0,159.69 771.5,159.83 772.0,159.95 772.5,160.06 773.0,160.16 773.5,160.25 774.0,160.33 774.5,160.40 775.0,160.46 775.5,160.52 776.0,160.58 776.5,160.63 777.0,160.67 777.5,160.71 778.0,160.75 778.5,160.78 779.0,160.81 779.5,160.84 780.0,160.86 780.5,160.88 781.0,160.90 781.5,160.91 782.0,160.93 782.5,160.94 783.0,160.95 783.5,160.95 784.0,160.96 784.5,160.97 785.0,160.97 785.5,160.97 786.0,160.98 786.5,160.98 787.0,160.98 787.5,160.98 788.0,160.98 788.5,160.98 789.0,160.99 789.5,161.01 790.0,161.07 790.5,161.17 791.0,161.31 791.5,161.47 792.0,161.63 792.5,161.80 793.0,161.95 793.5,162.06 794.0,162.11 794.5,162.07 795.0,161.95 795.5,161.80 796.0,161.64 796.5,161.48 797.0,161.33 797.5,161.19 798.0,161.09 798.5,161.03 799.0,161.00 799.5,161.00 800.0,161.00 800.5,161.00 801.0,161.00 801.5,161.00 802.0,161.00 802.5,161.00 803.0,161.00 803.5,161.00 804.0,161.00 804.5,161.00 805.0,161.00 805.5,161.00 806.0,161.00 806.5,161.00 807.0,161.00 807.5,161.00 808.0,161.00 808.5,161.00 809.0,161.00 809.5,161.00 810.0,161.00 810.5,161.00 811.0,161.00 811.5,161.00 812.0,161.00 812.5,161.00 813.0,161.00 813.5,161.00 814.0,161.00 814.5,161.00 815.0,161.00 815.5,161.00 816.0,161.00 816.5,161.00 817.0,161.00 817.5,161.00 818.0,161.00 818.5,161.00 819.0,161.00 819.5,161.00 820.0,161.00 820.5,161.00 821.0,161.00 821.5,161.00 822.0,161.00 822.5,161.00 823.0,161.00 823.5,161.00 824.0,161.00 824.5,161.00 825.0,161.00 825.5,161.00 826.0,161.00 826.5,161.00 827.0,161.00 827.5,161.00 828.0,161.00 828.5,161.00 829.0,161.00 829.5,161.00 830.0,161.00 830.5,161.00 831.0,161.00 831.5,161.00 832.0,161.00 832.5,161.00 833.0,161.01 833.5,161.03 834.0,161.07 834.5,161.16 835.0,161.28 835.5,161.41 836.0,161.54 836.5,161.68 837.0,161.81 837.5,161.94 838.0,162.05 838.5,162.11 839.0,162.09 839.5,161.98 840.0,161.80 840.5,161.61 841.0,161.42 841.5,161.24 842.0,161.11 842.5,161.04 843.0,161.01 843.5,161.00 844.0,161.00 844.5,161.00 845.0,161.00 845.5,161.00 846.0,161.00 846.5,161.00 847.0,161.00 847.5,161.00 848.0,161.00 848.5,161.00 849.0,161.00 849.5,161.00 850.0,161.00 850.5,161.00 851.0,161.00 851.5,161.00 852.0,161.00 852.5,161.00 853.0,161.00 853.5,161.00 854.0,161.00 854.5,161.00 855.0,161.00 855.5,161.00 856.0,161.00 856.5,161.00 857.0,161.00 857.5,161.00 858.0,161.00 858.5,161.00 859.0,161.00 859.5,161.00 860.0,161.01 860.5,161.03 861.0,161.08 861.5,161.18 862.0,161.30 862.5,161.44 863.0,161.59 863.5,161.74 864.0,161.88 864.5,162.01 865.0,162.10 865.5,162.11 866.0,162.03 866.5,161.89 867.0,161.72 867.5,161.54 868.0,161.37 868.5,161.22 869.0,161.12 869.5,161.07 870.0,161.08 870.5,161.10 871.0,161.14 871.5,161.18 872.0,161.24 872.5,161.31 873.0,161.40 873.5,161.49 874.0,161.59 874.5,161.69 875.0,161.79 875.5,161.88 876.0,161.95 876.5,161.98 877.0,161.94 877.5,161.86 878.0,161.75 878.5,161.62 879.0,161.50 879.5,161.38 880.0,161.26 880.5,161.15 881.0,161.07 881.5,161.02 882.0,161.01 882.5,161.00 883.0,161.00 883.5,161.00 884.0,161.00 884.5,161.00 885.0,161.00 885.5,161.00 886.0,161.00 886.5,161.00 887.0,161.00 887.5,161.00 888.0,161.00 888.5,161.00 889.0,161.00 889.5,161.00 890.0,161.00 890.5,161.00 891.0,161.00 891.5,161.00 892.0,161.00 892.5,161.00 893.0,161.00 893.5,161.00 894.0,161.00 894.5,161.00 895.0,161.00 895.5,161.00 896.0,161.00 896.5,161.00 897.0,161.00 897.5,161.00 898.0,161.00 898.5,161.00 899.0,161.01 899.5,161.03 900.0,161.08 900.5,161.17 901.0,161.30 901.5,161.43 902.0,161.58 902.5,161.72 903.0,161.86 903.5,162.00 904.0,162.11 904.5,162.16 905.0,162.14 905.5,162.06 906.0,161.96 906.5,161.84 907.0,161.73 907.5,161.64 908.0,161.56"/><path d="M483.0,341.00 483.5,341.00 484.0,341.00 484.5,341.00 485.0,341.00 485.5,341.00 486.0,341.00 486.5,341.00 487.0,341.00 487.5,341.00 488.0,341.00 488.5,341.01 489.0,341.02 489.5,341.05 490.0,341.10 490.5,341.16 491.0,341.23 491.5,341.31 492.0,341.40 492.5,341.48 493.0,341.57 493.5,341.65 494.0,341.73 494.5,341.80 495.0,341.84 495.5,341.86 496.0,341.84 496.5,341.79 497.0,341.71 497.5,341.63 498.0,341.54 498.5,341.45 499.0,341.35 499.5,341.26 500.0,341.17 500.5,341.09 501.0,341.03 501.5,340.99 502.0,341.01 502.5,341.07 503.0,341.18 503.5,341.31 504.0,341.47 504.5,341.63 505.0,341.78 505.5,341.91 506.0,341.99 506.5,342.02 507.0,341.97 507.5,341.86 508.0,341.70 508.5,341.53 509.0,341.36 509.5,341.22 510.0,341.12 510.5,341.09 511.0,341.12 511.5,341.22 512.0,341.35 512.5,341.50 513.0,341.66 513.5,341.80 514.0,341.91 514.5,341.96 515.0,341.92 515.5,341.80 516.0,341.60 516.5,341.35 517.0,341.08 517.5,340.81 518.0,340.54 518.5,340.30 519.0,340.12 519.5,340.00 520.0,339.97 520.5,340.00 521.0,340.08 521.5,340.18 522.0,340.28 522.5,340.39 523.0,340.51 523.5,340.62 524.0,340.73 524.5,340.83 525.0,340.92 525.5,341.01 526.0,341.09 526.5,341.16 527.0,341.22 527.5,341.28 528.0,341.34 528.5,341.41 529.0,341.47 529.5,341.53 530.0,341.59 530.5,341.66 531.0,341.74 531.5,341.83 532.0,341.93 532.5,342.06 533.0,342.19 533.5,342.33 534.0,342.48 534.5,342.62 535.0,342.76 535.5,342.89 536.0,342.99 536.5,343.06 537.0,343.06 537.5,343.01 538.0,342.92 538.5,342.80 539.0,342.66 539.5,342.52 540.0,342.38 540.5,342.24 541.0,342.10 541.5,341.97 542.0,341.86 542.5,341.76 543.0,341.67 543.5,341.60 544.0,341.53 544.5,341.46 545.0,341.39 545.5,341.32 546.0,341.25 546.5,341.20 547.0,341.15 547.5,341.14 548.0,341.15 548.5,341.20 549.0,341.28 549.5,341.38 550.0,341.48 550.5,341.58 551.0,341.67 551.5,341.74 552.0,341.77 552.5,341.75 553.0,341.67 553.5,341.53 554.0,341.37 554.5,341.19 555.0,341.00 555.5,340.80 556.0,340.61 556.5,340.42 557.0,340.23 557.5,340.03 558.0,339.84 558.5,339.65 559.0,339.47 559.5,339.31 560.0,339.18 560.5,339.11 561.0,339.12 561.5,339.20 562.0,339.33 562.5,339.50 563.0,339.69 563.5,339.88 564.0,340.07 564.5,340.26 565.0,340.45 565.5,340.65 566.0,340.84 566.5,341.02 567.0,341.20 567.5,341.34 568.0,341.42 568.5,341.43 569.0,341.34 569.5,341.17 570.0,340.94 570.5,340.68 571.0,340.41 571.5,340.14 572.0,339.86 572.5,339.59 573.0,339.31 573.5,339.05 574.0,338.82 574.5,338.64 575.0,338.53 575.5,338.51 576.0,338.56 576.5,338.66 577.0,338.78 577.5,338.92 578.0,339.07 578.5,339.21 579.0,339.35 579.5,339.50 580.0,339.64 580.5,339.79 581.0,339.93 581.5,340.08 582.0,340.22 582.5,340.36 583.0,340.50 583.5,340.63 584.0,340.73 584.5,340.79 585.0,340.81 585.5,340.78 586.0,340.72 586.5,340.63 587.0,340.54 587.5,340.45 588.0,340.37 588.5,340.32 589.0,340.31 589.5,340.35 590.0,340.44 590.5,340.57 591.0,340.72 591.5,340.87 592.0,341.01 592.5,341.11 593.0,341.15 593.5,341.13 594.0,341.06 594.5,340.95 595.0,340.82 595.5,340.68 596.0,340.54 596.5,340.39 597.0,340.26 597.5,340.14 598.0,340.06 598.5,340.03 599.0,340.07 599.5,340.17 600.0,340.30 600.5,340.41 601.0,340.49 601.5,340.54 602.0,340.58 602.5,340.60 603.0,340.62 603.5,340.64 604.0,340.66 604.5,340.68 605.0,340.70 605.5,340.72 606.0,340.74 606.5,340.76 607.0,340.78 607.5,340.80 608.0,340.83 608.5,340.85 609.0,340.87 609.5,340.89 610.0,340.91 610.5,340.93 611.0,340.96 611.5,341.00 612.0,341.07 612.5,341.16 613.0,341.28 613.5,341.43 614.0,341.58 614.5,341.74 615.0,341.87 615.5,341.97 616.0,342.00 616.5,341.95 617.0,341.84 617.5,341.68 618.0,341.49 618.5,341.28 619.0,341.07 619.5,340.87 620.0,340.68 620.5,340.51 621.0,340.38 621.5,340.31 622.0,340.29 622.5,340.32 623.0,340.37 623.5,340.44 624.0,340.52 624.5,340.60 625.0,340.67 625.5,340.75 626.0,340.82 626.5,340.88 627.0,340.93 627.5,340.96 628.0,340.98 628.5,340.99 629.0,341.00 629.5,341.00 630.0,341.00 630.5,341.00 631.0,341.01 631.5,341.03 632.0,341.08 632.5,341.15 633.0,341.24 633.5,341.36 634.0,341.50 634.5,341.63 635.0,341.77 635.5,341.90 636.0,342.00 636.5,342.06 637.0,342.07 637.5,342.02 638.0,341.93 638.5,341.81 639.0,341.68 639.5,341.54 640.0,341.40 640.5,341.26 641.0,341.12 641.5,340.97 642.0,340.83 642.5,340.70 643.0,340.56 643.5,340.44 644.0,340.35 644.5,340.30 645.0,340.29 645.5,340.33 646.0,340.40 646.5,340.49 647.0,340.58 647.5,340.68 648.0,340.77 648.5,340.85 649.0,340.91 649.5,340.95 650.0,340.98 650.5,340.99 651.0,341.00 651.5,341.00 652.0,341.00 652.5,341.00 653.0,341.00 653.5,341.00 654.0,341.00 654.5,341.00 655.0,341.00 655.5,341.00 656.0,341.00 656.5,341.00 657.0,341.00 657.5,341.00 658.0,341.00 658.5,341.00 659.0,341.00 659.5,341.00 660.0,341.00 660.5,341.00 661.0,341.00 661.5,341.00 662.0,341.00 662.5,341.00 663.0,341.00 663.5,341.00 664.0,341.00 664.5,341.00 665.0,341.00 665.5,341.00 666.0,341.00 666.5,341.00 667.0,341.00 667.5,341.00 668.0,341.00 668.5,341.00 669.0,341.00 669.5,340.99 670.0,340.97 670.5,340.93 671.0,340.86 671.5,340.75 672.0,340.61 672.5,340.44 673.0,340.25 673.5,340.08 674.0,339.94 674.5,339.85 675.0,339.83 675.5,339.90 676.0,340.03 676.5,340.21 677.0,340.41 677.5,340.62 678.0,340.84 678.5,341.05 679.0,341.26 679.5,341.47 680.0,341.67 680.5,341.83 681.0,341.94 681.5,341.98 682.0,341.95 682.5,341.84 683.0,341.70 683.5,341.53 684.0,341.35 684.5,341.16 685.0,340.98 685.5,340.80 686.0,340.62 686.5,340.44 687.0,340.27 687.5,340.13 688.0,340.03 688.5,340.00 689.0,340.03 689.5,340.14 690.0,340.29 690.5,340.46 691.0,340.64 691.5,340.82 692.0,340.98 692.5,341.11 693.0,341.20 693.5,341.24 694.0,341.24 694.5,341.20 695.0,341.17 695.5,341.14 696.0,341.13 696.5,341.16 697.0,341.22 697.5,341.30 698.0,341.40 698.5,341.51 699.0,341.62 699.5,341.73 700.0,341.83 700.5,341.94 701.0,342.02 701.5,342.09 702.0,342.11 702.5,342.09 703.0,342.02 703.5,341.93 704.0,341.81 704.5,341.69 705.0,341.56 705.5,341.44 706.0,341.32 706.5,341.21 707.0,341.12 707.5,341.06 708.0,341.01 708.5,340.98 709.0,340.96 709.5,340.95 710.0,340.94 710.5,340.93 711.0,340.91 711.5,340.90 712.0,340.89 712.5,340.88 713.0,340.87 713.5,340.86 714.0,340.85 714.5,340.83 715.0,340.81 715.5,340.77 716.0,340.71 716.5,340.62 717.0,340.51 717.5,340.39 718.0,340.25 718.5,340.13 719.0,340.02 719.5,339.96 720.0,339.96 720.5,340.01 721.0,340.12 721.5,340.26 722.0,340.40 722.5,340.54 723.0,340.65 723.5,340.73 724.0,340.78 724.5,340.81 725.0,340.82 725.5,340.83 726.0,340.84 726.5,340.85 727.0,340.85 727.5,340.86 728.0,340.87 728.5,340.87 729.0,340.88 729.5,340.89 730.0,340.89 730.5,340.90 731.0,340.91 731.5,340.91 732.0,340.92 732.5,340.93 733.0,340.93 733.5,340.94 734.0,340.95 734.5,340.95 735.0,340.96 735.5,340.97 736.0,340.98 736.5,340.98 737.0,340.99 737.5,341.00 738.0,341.00 738.5,341.01 739.0,341.02 739.5,341.02 740.0,341.03 740.5,341.04 741.0,341.04 741.5,341.05 742.0,341.06 742.5,341.06 743.0,341.07 743.5,341.08 744.0,341.10 744.5,341.13 745.0,341.18 745.5,341.26 746.0,341.36 746.5,341.48 747.0,341.62 747.5,341.76 748.0,341.89 748.5,342.02 749.0,342.13 749.5,342.20 750.0,342.21 750.5,342.14 751.0,342.01 751.5,341.83 752.0,341.62 752.5,341.41 753.0,341.22 753.5,341.06 754.0,340.94 754.5,340.86 755.0,340.82 755.5,340.81 756.0,340.82 756.5,340.84 757.0,340.90 757.5,340.98 758.0,341.09 758.5,341.22 759.0,341.36 759.5,341.51 760.0,341.65 760.5,341.77 761.0,341.87 761.5,341.94 762.0,341.98 762.5,341.98 763.0,341.96 763.5,341.93 764.0,341.90 764.5,341.87 765.0,341.83 765.5,341.80 766.0,341.76 766.5,341.72 767.0,341.68 767.5,341.64 768.0,341.61 768.5,341.56 769.0,341.52 769.5,341.48 770.0,341.44 770.5,341.39 771.0,341.34 771.5,341.30 772.0,341.26 772.5,341.24 773.0,341.24 773.5,341.26 774.0,341.32 774.5,341.39 775.0,341.47 775.5,341.56 776.0,341.64 776.5,341.70 777.0,341.73 777.5,341.72 778.0,341.66 778.5,341.56 779.0,341.43 779.5,341.28 780.0,341.13 780.5,340.98 781.0,340.85 781.5,340.73 782.0,340.62 782.5,340.53 783.0,340.43 783.5,340.33 784.0,340.23 784.5,340.12 785.0,340.00 785.5,339.88 786.0,339.75 786.5,339.62 787.0,339.48 787.5,339.32 788.0,339.16 788.5,338.99 789.0,338.81 789.5,338.62 790.0,338.42 790.5,338.21 791.0,337.98 791.5,337.73 792.0,337.46 792.5,337.17 793.0,336.85 793.5,336.51 794.0,336.12 794.5,335.70 795.0,335.23 795.5,334.70 796.0,334.11 796.5,333.45 797.0,332.70 797.5,331.85 798.0,330.90 798.5,329.82 799.0,328.60 799.5,327.23 800.0,325.68 800.5,323.96 801.0,322.03 801.5,319.88 802.0,317.50 802.5,314.88 803.0,312.00 803.5,308.86 804.0,305.46 804.5,301.79 805.0,297.86 805.5,293.67 806.0,289.24 806.5,284.59 807.0,279.75 807.5,274.73 808.0,269.59 808.5,264.35 809.0,259.07 809.5,253.80 810.0,248.58 810.5,243.48 811.0,238.54 811.5,233.83 812.0,229.40 812.5,225.31 813.0,221.59 813.5,218.31 814.0,215.49 814.5,213.16 815.0,211.36 815.5,210.08 816.0,209.34 816.5,209.11 817.0,209.23 817.5,209.67 818.0,210.51 818.5,211.77 819.0,213.48 819.5,215.66 820.0,218.29 820.5,221.38 821.0,224.89 821.5,228.80 822.0,233.07 822.5,237.66 823.0,242.52 823.5,247.58 824.0,252.81 824.5,258.14 825.0,263.50 825.5,268.86 826.0,274.15 826.5,279.32 827.0,284.34 827.5,289.16 828.0,293.76 828.5,298.10 829.0,302.17 829.5,305.97 830.0,309.47 830.5,312.69 831.0,315.62 831.5,318.28 832.0,320.68 832.5,322.83 833.0,324.76 833.5,326.48 834.0,328.00 834.5,329.35 835.0,330.55 835.5,331.61 836.0,332.56 836.5,333.40 837.0,334.14 837.5,334.81 838.0,335.42 838.5,335.96 839.0,336.46 839.5,336.91 840.0,337.32 840.5,337.70 841.0,338.05 841.5,338.38 842.0,338.68 842.5,338.96 843.0,339.23 843.5,339.47 844.0,339.70 844.5,339.92 845.0,340.12 845.5,340.31 846.0,340.48 846.5,340.64 847.0,340.79 847.5,340.93 848.0,341.04 848.5,341.10 849.0,341.09 849.5,340.98 850.0,340.76 850.5,340.43 851.0,340.03 851.5,339.60 852.0,339.15 852.5,338.71 853.0,338.34 853.5,338.07 854.0,337.96 854.5,338.03 855.0,338.27 855.5,338.61 856.0,339.02 856.5,339.44 857.0,339.88 857.5,340.31 858.0,340.72 858.5,341.11 859.0,341.43 859.5,341.67 860.0,341.79 860.5,341.80 861.0,341.72 861.5,341.59 862.0,341.45 862.5,341.30 863.0,341.18 863.5,341.09 864.0,341.03 864.5,341.00 865.0,340.99 865.5,340.99 866.0,341.00 866.5,341.00 867.0,341.01 867.5,341.01 868.0,341.02 868.5,341.02 869.0,341.03 869.5,341.03 870.0,341.04 870.5,341.04 871.0,341.04 871.5,341.05 872.0,341.05 872.5,341.05 873.0,341.06 873.5,341.06 874.0,341.06 874.5,341.07 875.0,341.07 875.5,341.07 876.0,341.08 876.5,341.08 877.0,341.08 877.5,341.08 878.0,341.08 878.5,341.05 879.0,341.00 879.5,340.92 880.0,340.79 880.5,340.63 881.0,340.45 881.5,340.27 882.0,340.09 882.5,339.95 883.0,339.86 883.5,339.85 884.0,339.93 884.5,340.08 885.0,340.28 885.5,340.50 886.0,340.73 886.5,340.96 887.0,341.18 887.5,341.39 888.0,341.56 888.5,341.68 889.0,341.72 889.5,341.70 890.0,341.63 890.5,341.52 891.0,341.42 891.5,341.34 892.0,341.30 892.5,341.30 893.0,341.35 893.5,341.43 894.0,341.53 894.5,341.63 895.0,341.72 895.5,341.78 896.0,341.80 896.5,341.78 897.0,341.70 897.5,341.60 898.0,341.48 898.5,341.34 899.0,341.21 899.5,341.07 900.0,340.94 900.5,340.80 901.0,340.67 901.5,340.55 902.0,340.46 902.5,340.41 903.0,340.40 903.5,340.44 904.0,340.51 904.5,340.60 905.0,340.71 905.5,340.82 906.0,340.92 906.5,341.02 907.0,341.11 907.5,341.19 908.0,341.24"/>
<path d="M301.7,343.3 L301.7,351.2 M302.6,544.6 L302.6,554.8" stroke-width="1.8"/>
</g>
</g>
<g class="txt" fill="#f5f5f5" stroke="#f5f5f5" stroke-width="1.6" stroke-linejoin="round" font-family="Liberation Sans, sans-serif">
<text transform="translate(15.30,35.8) scale(0.9189,1.0)" font-size="12.5">Trace</text>
<text transform="translate(47.00,35.8) scale(0.9371,1.0)" font-size="12.5">1:</text>
<text transform="translate(59.08,35.8) scale(0.9610,1.0)" font-size="12.5">1:3,</text>
<text transform="translate(81.13,35.8) scale(1.0212,1.0)" font-size="12.5">D:L-Methamphetamine</text>
<text transform="translate(213.97,35.8) scale(0.9300,1.0)" font-size="12.5">Standard</text>
<text transform="translate(15.30,219.2) scale(0.9189,1.0)" font-size="12.5">Trace</text>
<text transform="translate(46.53,219.2) scale(0.9863,1.0)" font-size="12.5">2:</text>
<text transform="translate(58.17,219.2) scale(0.9772,1.0)" font-size="12.5">Patient</text>
<text transform="translate(99.96,219.2) scale(0.9576,1.0)" font-size="12.5">Sample</text>
<text transform="translate(144.39,219.2) scale(0.7467,1.0)" font-size="12.5">–</text>
<text transform="translate(153.33,219.2) scale(0.8846,1.0)" font-size="12.5">ILLICIT,</text>
<text transform="translate(14.64,234.8) scale(1.0145,1.0)" font-size="12.5">D-Methamphetamine</text>
<text transform="translate(135.88,234.8) scale(0.9661,1.0)" font-size="12.5">Positive</text>
<text transform="translate(15.30,401.9) scale(0.9189,1.0)" font-size="12.5">Trace</text>
<text transform="translate(46.66,401.9) scale(0.9730,1.0)" font-size="12.5">3:</text>
<text transform="translate(58.17,401.9) scale(0.9772,1.0)" font-size="12.5">Patient</text>
<text transform="translate(99.96,401.9) scale(0.9576,1.0)" font-size="12.5">Sample</text>
<text transform="translate(144.39,401.9) scale(0.7467,1.0)" font-size="12.5">–</text>
<text transform="translate(153.33,401.9) scale(0.8846,1.0)" font-size="12.5">ILLICIT,</text>
<text transform="translate(14.64,417.6) scale(1.0145,1.0)" font-size="12.5">D-Methamphetamine</text>
<text transform="translate(135.88,417.6) scale(0.9661,1.0)" font-size="12.5">Positive</text>
<text transform="translate(481.10,29.2) scale(0.9189,1.0)" font-size="12.5">Trace</text>
<text transform="translate(512.70,29.2) scale(0.9474,1.0)" font-size="12.5">4:</text>
<text transform="translate(523.97,29.2) scale(0.9772,1.0)" font-size="12.5">Patient</text>
<text transform="translate(565.76,29.2) scale(0.9576,1.0)" font-size="12.5">Sample</text>
<text transform="translate(610.19,29.2) scale(0.7467,1.0)" font-size="12.5">–</text>
<text transform="translate(619.13,29.2) scale(0.8846,1.0)" font-size="12.5">ILLICIT,</text>
<text transform="translate(480.44,44.7) scale(1.0145,1.0)" font-size="12.5">D-Methamphetamine</text>
<text transform="translate(601.68,44.7) scale(0.9661,1.0)" font-size="12.5">Positive</text>
<text transform="translate(481.20,216.4) scale(0.9189,1.0)" font-size="12.5">Trace</text>
<text transform="translate(512.56,216.4) scale(0.9730,1.0)" font-size="12.5">5:</text>
<text transform="translate(524.06,216.4) scale(0.9876,1.0)" font-size="12.5">Patient</text>
<text transform="translate(566.26,216.4) scale(0.9457,1.0)" font-size="12.5">Sample</text>
<text transform="translate(610.59,216.4) scale(0.7467,1.0)" font-size="12.5">–</text>
<text transform="translate(619.24,216.4) scale(0.8831,1.0)" font-size="12.5">LEGAL,</text>
<text transform="translate(480.65,232.1) scale(1.0051,1.0)" font-size="12.5">L-Methamphetamine</text>
<text transform="translate(598.67,232.1) scale(0.9684,1.0)" font-size="12.5">Positive</text>
<text x="283.0" y="104.7" font-size="12.5" font-weight="normal" text-anchor="middle">D</text>
<text x="355.3" y="18.7" font-size="12.5" font-weight="normal" text-anchor="middle">L</text>
<text x="281.8" y="201.4" font-size="12.5" font-weight="normal" text-anchor="middle">D</text>
<text x="284.0" y="383.8" font-size="12.5" font-weight="normal" text-anchor="middle">D</text>
<text x="746.0" y="16.2" font-size="12.5" font-weight="normal" text-anchor="middle">D</text>
<text x="817.3" y="201.0" font-size="12.5" font-weight="normal" text-anchor="middle">L</text>
<text x="698.3" y="398.0" font-size="12.5" font-weight="bold" text-anchor="middle" textLength="21.8" lengthAdjust="spacingAndGlyphs">Min</text>
<text x="522.15" y="380.8" font-size="12.5" font-weight="normal" text-anchor="middle">8</text>
<text x="599.86" y="380.8" font-size="12.5" font-weight="normal" text-anchor="middle">9</text>
<text x="677.57" y="380.8" font-size="12.5" font-weight="normal" text-anchor="middle">10</text>
<text x="755.28" y="380.8" font-size="12.5" font-weight="normal" text-anchor="middle">11</text>
<text x="832.99" y="380.8" font-size="12.5" font-weight="normal" text-anchor="middle">12</text>
<text x="910.7" y="380.8" font-size="12.5" font-weight="normal" text-anchor="middle">13</text>
</g>
<g class="txt" fill="#121212" stroke="#121212" stroke-width="0.5" font-family="Liberation Sans, sans-serif">
<text transform="translate(15.30,35.8) scale(0.9189,1.0)" font-size="12.5">Trace</text>
<text transform="translate(47.00,35.8) scale(0.9371,1.0)" font-size="12.5">1:</text>
<text transform="translate(59.08,35.8) scale(0.9610,1.0)" font-size="12.5">1:3,</text>
<text transform="translate(81.13,35.8) scale(1.0212,1.0)" font-size="12.5">D:L-Methamphetamine</text>
<text transform="translate(213.97,35.8) scale(0.9300,1.0)" font-size="12.5">Standard</text>
<text transform="translate(15.30,219.2) scale(0.9189,1.0)" font-size="12.5">Trace</text>
<text transform="translate(46.53,219.2) scale(0.9863,1.0)" font-size="12.5">2:</text>
<text transform="translate(58.17,219.2) scale(0.9772,1.0)" font-size="12.5">Patient</text>
<text transform="translate(99.96,219.2) scale(0.9576,1.0)" font-size="12.5">Sample</text>
<text transform="translate(144.39,219.2) scale(0.7467,1.0)" font-size="12.5">–</text>
<text transform="translate(153.33,219.2) scale(0.8846,1.0)" font-size="12.5">ILLICIT,</text>
<text transform="translate(14.64,234.8) scale(1.0145,1.0)" font-size="12.5">D-Methamphetamine</text>
<text transform="translate(135.88,234.8) scale(0.9661,1.0)" font-size="12.5">Positive</text>
<text transform="translate(15.30,401.9) scale(0.9189,1.0)" font-size="12.5">Trace</text>
<text transform="translate(46.66,401.9) scale(0.9730,1.0)" font-size="12.5">3:</text>
<text transform="translate(58.17,401.9) scale(0.9772,1.0)" font-size="12.5">Patient</text>
<text transform="translate(99.96,401.9) scale(0.9576,1.0)" font-size="12.5">Sample</text>
<text transform="translate(144.39,401.9) scale(0.7467,1.0)" font-size="12.5">–</text>
<text transform="translate(153.33,401.9) scale(0.8846,1.0)" font-size="12.5">ILLICIT,</text>
<text transform="translate(14.64,417.6) scale(1.0145,1.0)" font-size="12.5">D-Methamphetamine</text>
<text transform="translate(135.88,417.6) scale(0.9661,1.0)" font-size="12.5">Positive</text>
<text transform="translate(481.10,29.2) scale(0.9189,1.0)" font-size="12.5">Trace</text>
<text transform="translate(512.70,29.2) scale(0.9474,1.0)" font-size="12.5">4:</text>
<text transform="translate(523.97,29.2) scale(0.9772,1.0)" font-size="12.5">Patient</text>
<text transform="translate(565.76,29.2) scale(0.9576,1.0)" font-size="12.5">Sample</text>
<text transform="translate(610.19,29.2) scale(0.7467,1.0)" font-size="12.5">–</text>
<text transform="translate(619.13,29.2) scale(0.8846,1.0)" font-size="12.5">ILLICIT,</text>
<text transform="translate(480.44,44.7) scale(1.0145,1.0)" font-size="12.5">D-Methamphetamine</text>
<text transform="translate(601.68,44.7) scale(0.9661,1.0)" font-size="12.5">Positive</text>
<text transform="translate(481.20,216.4) scale(0.9189,1.0)" font-size="12.5">Trace</text>
<text transform="translate(512.56,216.4) scale(0.9730,1.0)" font-size="12.5">5:</text>
<text transform="translate(524.06,216.4) scale(0.9876,1.0)" font-size="12.5">Patient</text>
<text transform="translate(566.26,216.4) scale(0.9457,1.0)" font-size="12.5">Sample</text>
<text transform="translate(610.59,216.4) scale(0.7467,1.0)" font-size="12.5">–</text>
<text transform="translate(619.24,216.4) scale(0.8831,1.0)" font-size="12.5">LEGAL,</text>
<text transform="translate(480.65,232.1) scale(1.0051,1.0)" font-size="12.5">L-Methamphetamine</text>
<text transform="translate(598.67,232.1) scale(0.9684,1.0)" font-size="12.5">Positive</text>
</g>
<g class="txt" fill="#121212" stroke="#121212" stroke-width="0.2" font-family="Liberation Sans, sans-serif">
<text x="283.0" y="104.7" font-size="12.5" font-weight="normal" text-anchor="middle">D</text>
<text x="355.3" y="18.7" font-size="12.5" font-weight="normal" text-anchor="middle">L</text>
<text x="281.8" y="201.4" font-size="12.5" font-weight="normal" text-anchor="middle">D</text>
<text x="284.0" y="383.8" font-size="12.5" font-weight="normal" text-anchor="middle">D</text>
<text x="746.0" y="16.2" font-size="12.5" font-weight="normal" text-anchor="middle">D</text>
<text x="817.3" y="201.0" font-size="12.5" font-weight="normal" text-anchor="middle">L</text>
<text x="698.3" y="398.0" font-size="12.5" font-weight="bold" text-anchor="middle" textLength="21.8" lengthAdjust="spacingAndGlyphs">Min</text>
<text x="522.15" y="380.8" font-size="12.5" font-weight="normal" text-anchor="middle">8</text>
<text x="599.86" y="380.8" font-size="12.5" font-weight="normal" text-anchor="middle">9</text>
<text x="677.57" y="380.8" font-size="12.5" font-weight="normal" text-anchor="middle">10</text>
<text x="755.28" y="380.8" font-size="12.5" font-weight="normal" text-anchor="middle">11</text>
<text x="832.99" y="380.8" font-size="12.5" font-weight="normal" text-anchor="middle">12</text>
<text x="910.7" y="380.8" font-size="12.5" font-weight="normal" text-anchor="middle">13</text>
</g>
</svg>
</body></html>
